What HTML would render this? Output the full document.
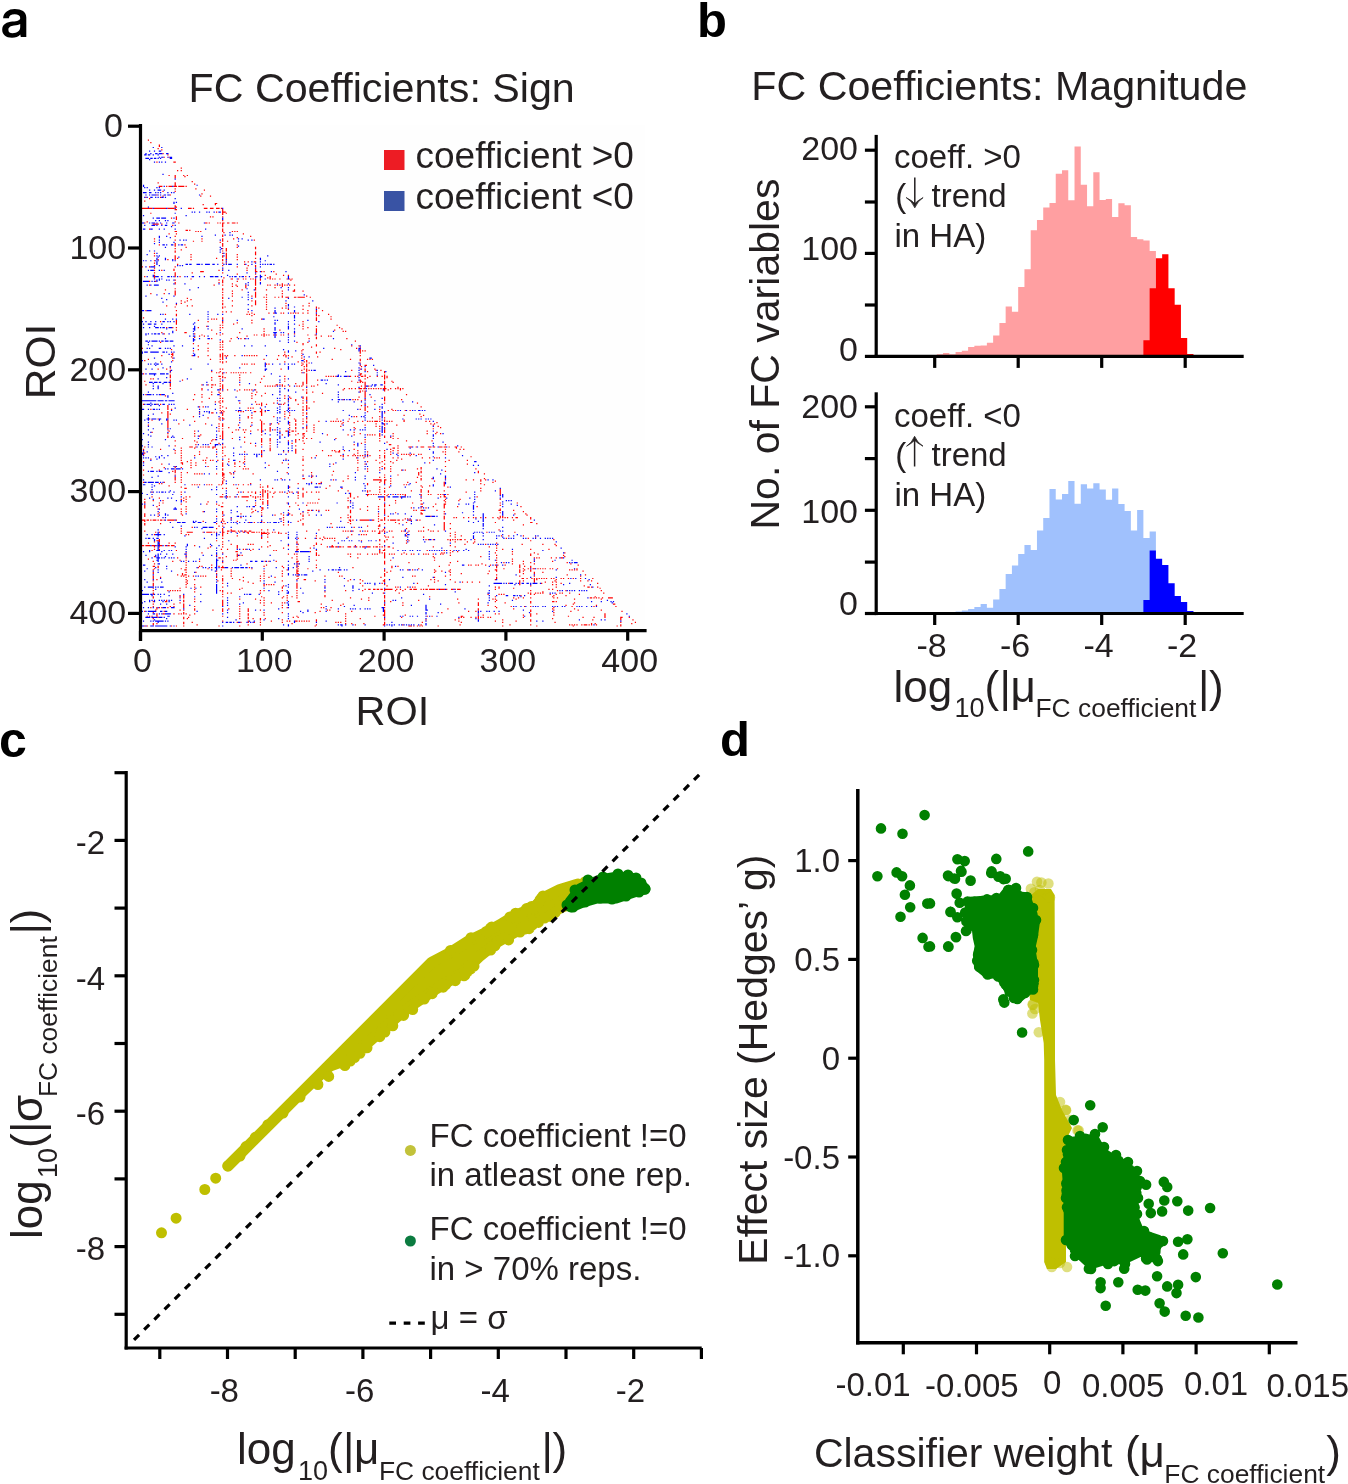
<!DOCTYPE html>
<html><head><meta charset="utf-8"><title>FC coefficients figure</title>
<style>html,body{margin:0;padding:0;background:#fff;}svg{display:block;will-change:transform;}text{font-family:"Liberation Sans",sans-serif;}</style>
</head><body>
<svg width="1348" height="1484" viewBox="0 0 1348 1484">
<rect width="1348" height="1484" fill="#fff"/>
<path fill-rule="evenodd" fill="#000" d="M3.1 18.2C3.6 12.5 8.5 9.1 14.7 9.1C21.5 9.1 26.3 11.8 26.3 17.5L26.3 36.9L20.8 36.9C20.5 36 20.4 35.3 20.3 34.6C18.4 36.7 15.5 37.8 12 37.8C5.8 37.8 2.2 34.4 2.2 29.8C2.2 24 7 22.3 12.5 21.6C17.5 21 20.2 20.6 20.2 18C20.2 15.4 18 14.2 14.7 14.2C11 14.2 9.1 15.8 8.9 18.2ZM20.2 24C19 24.8 16.8 25.2 14 25.6C10.8 26.1 8.4 27.2 8.4 29.9C8.4 32.1 10 33.2 12.6 33.2C17 33.2 20.2 31 20.2 27Z"/>
<text x="697" y="37.2" font-size="49" font-weight="bold" fill="#000">b</text>
<text x="-1" y="756.8" font-size="50" font-weight="bold" fill="#000">c</text>
<text x="720" y="756.4" font-size="49" font-weight="bold" fill="#000">d</text>
<text x="188.6" y="102" font-size="41.2" fill="#231f20">FC Coefficients: Sign</text>
<rect x="140" y="125" width="505" height="505" fill="#fefefe"/>
<g transform="translate(140.5,126.2) scale(1.2175)"><path d="M6 11h1v1h-1zM8 13h1v1h-1zM15 15h1v1h-1zM15 16h1v1h-1zM14 18h1v1h-1zM17 19h1v1h-1zM18 22h1v1h-1zM22 23h1v1h-1zM19 25h1v1h-1zM23 25h1v1h-1zM13 29h1v1h-1zM27 29h2v1h-2zM33 34h1v1h-1zM30 36h1v1h-1zM33 36h1v1h-1zM23 40h1v1h-1zM28 40h1v1h-1zM35 40h1v1h-1zM38 40h1v1h-1zM28 41h1v1h-1zM36 41h1v1h-1zM28 42h1v1h-1zM42 45h1v1h-1zM14 46h1v1h-1zM28 46h1v1h-1zM28 47h1v1h-1zM44 47h1v1h-1zM28 48h1v1h-1zM15 49h3v1h-3zM21 49h1v1h-1zM23 49h3v1h-3zM27 49h3v1h-3zM31 49h5v1h-5zM37 49h1v1h-1zM28 51h1v1h-1zM45 51h1v1h-1zM52 52h1v1h-1zM18 53h1v1h-1zM28 53h1v1h-1zM50 55h1v1h-1zM13 56h1v1h-1zM24 56h1v1h-1zM18 57h1v1h-1zM49 57h1v1h-1zM57 57h1v1h-1zM4 58h1v1h-1zM16 58h1v1h-1zM7 59h1v1h-1zM3 61h1v1h-1zM61 63h2v1h-2zM51 64h1v1h-1zM61 64h1v1h-1zM28 65h1v1h-1zM28 66h2v1h-2zM0 67h10v1h-10zM11 67h10v1h-10zM22 67h6v1h-6zM39 67h3v1h-3zM43 67h1v1h-1zM52 67h3v1h-3zM57 67h3v1h-3zM62 67h3v1h-3zM66 67h1v1h-1zM28 68h2v1h-2zM67 68h1v1h-1zM67 69h1v1h-1zM62 70h1v1h-1zM67 70h3v1h-3zM8 71h1v1h-1zM67 71h1v1h-1zM70 71h1v1h-1zM67 72h1v1h-1zM29 74h1v1h-1zM57 74h1v1h-1zM59 74h1v1h-1zM67 74h1v1h-1zM25 75h1v1h-1zM29 75h1v1h-1zM29 76h1v1h-1zM67 77h1v1h-1zM5 78h1v1h-1zM28 78h1v1h-1zM3 79h1v1h-1zM31 79h1v1h-1zM53 79h2v1h-2zM56 79h1v1h-1zM63 79h1v1h-1zM65 79h1v1h-1zM67 79h2v1h-2zM71 79h2v1h-2zM75 79h3v1h-3zM79 79h1v1h-1zM10 80h5v1h-5zM17 80h1v1h-1zM67 80h1v1h-1zM26 81h1v1h-1zM67 81h1v1h-1zM67 82h1v1h-1zM7 84h1v1h-1zM67 84h1v1h-1zM37 85h2v1h-2zM40 85h1v1h-1zM67 85h1v1h-1zM28 86h2v1h-2zM45 86h1v1h-1zM47 86h1v1h-1zM49 86h1v1h-1zM67 86h1v1h-1zM75 86h1v1h-1zM77 86h1v1h-1zM79 86h1v1h-1zM68 87h1v1h-1zM23 88h1v1h-1zM29 88h1v1h-1zM84 88h1v1h-1zM67 89h1v1h-1zM28 90h1v1h-1zM67 90h1v1h-1zM90 90h1v1h-1zM79 91h1v1h-1zM11 92h1v1h-1zM50 92h1v1h-1zM67 92h1v1h-1zM76 92h1v1h-1zM28 93h1v1h-1zM67 93h1v1h-1zM93 93h1v1h-1zM11 94h1v1h-1zM43 94h1v1h-1zM50 94h1v1h-1zM67 94h1v1h-1zM71 94h1v1h-1zM65 95h1v1h-1zM28 96h1v1h-1zM67 96h1v1h-1zM15 97h1v1h-1zM28 97h1v1h-1zM36 97h1v1h-1zM67 97h1v1h-1zM79 97h1v1h-1zM28 98h1v1h-1zM67 98h1v1h-1zM37 99h1v1h-1zM79 99h1v1h-1zM94 99h1v1h-1zM28 100h1v1h-1zM67 100h1v1h-1zM70 100h1v1h-1zM94 100h1v1h-1zM33 101h1v1h-1zM70 101h1v1h-1zM28 102h1v1h-1zM67 102h1v1h-1zM70 102h1v1h-1zM28 103h1v1h-1zM94 103h1v1h-1zM11 104h1v1h-1zM67 104h1v1h-1zM70 104h1v1h-1zM94 104h1v1h-1zM41 105h1v1h-1zM70 105h1v1h-1zM79 105h1v1h-1zM94 105h1v1h-1zM11 106h1v1h-1zM28 106h1v1h-1zM67 106h1v1h-1zM70 106h1v1h-1zM28 107h1v1h-1zM41 107h1v1h-1zM67 107h1v1h-1zM70 107h1v1h-1zM79 107h1v1h-1zM28 108h1v1h-1zM30 108h1v1h-1zM62 108h1v1h-1zM70 108h1v1h-1zM94 108h1v1h-1zM14 109h1v1h-1zM22 109h1v1h-1zM28 109h1v1h-1zM41 109h1v1h-1zM67 109h1v1h-1zM79 109h1v1h-1zM11 110h1v1h-1zM67 110h1v1h-1zM70 110h1v1h-1zM85 111h1v1h-1zM88 111h1v1h-1zM93 111h2v1h-2zM11 112h1v1h-1zM67 112h1v1h-1zM70 112h1v1h-1zM30 113h1v1h-1zM85 113h1v1h-1zM11 114h1v1h-1zM67 114h1v1h-1zM88 114h1v1h-1zM94 114h1v1h-1zM1 115h1v1h-1zM7 115h1v1h-1zM28 115h1v1h-1zM79 115h1v1h-1zM94 115h1v1h-1zM11 116h1v1h-1zM87 116h1v1h-1zM27 117h1v1h-1zM67 117h1v1h-1zM94 117h1v1h-1zM11 118h1v1h-1zM17 118h1v1h-1zM27 118h1v1h-1zM64 118h1v1h-1zM87 118h1v1h-1zM94 118h1v1h-1zM49 119h3v1h-3zM94 119h2v1h-2zM99 119h1v1h-1zM101 119h1v1h-1zM109 119h1v1h-1zM11 120h1v1h-1zM28 120h1v1h-1zM42 120h1v1h-1zM67 120h1v1h-1zM28 121h1v1h-1zM79 121h1v1h-1zM94 121h1v1h-1zM111 121h1v1h-1zM11 122h1v1h-1zM28 122h1v1h-1zM102 122h1v1h-1zM117 122h1v1h-1zM121 122h1v1h-1zM3 123h1v1h-1zM11 123h1v1h-1zM28 123h1v1h-1zM32 123h1v1h-1zM86 123h1v1h-1zM94 123h1v1h-1zM106 123h1v1h-1zM11 124h1v1h-1zM68 124h1v1h-1zM104 124h1v1h-1zM106 124h1v1h-1zM41 125h1v1h-1zM74 125h2v1h-2zM80 125h1v1h-1zM84 125h1v1h-1zM86 125h1v1h-1zM90 125h1v1h-1zM92 125h1v1h-1zM94 125h1v1h-1zM98 125h1v1h-1zM106 125h1v1h-1zM108 125h1v1h-1zM110 125h1v1h-1zM114 125h1v1h-1zM120 125h1v1h-1zM122 125h1v1h-1zM124 125h1v1h-1zM28 126h1v1h-1zM64 126h1v1h-1zM67 126h1v1h-1zM94 126h1v1h-1zM98 126h1v1h-1zM123 126h1v1h-1zM7 127h1v1h-1zM12 127h1v1h-1zM67 127h1v1h-1zM79 127h1v1h-1zM94 127h1v1h-1zM28 128h1v1h-1zM64 128h1v1h-1zM67 128h1v1h-1zM94 128h1v1h-1zM28 129h1v1h-1zM75 129h1v1h-1zM94 129h1v1h-1zM116 129h1v1h-1zM7 130h1v1h-1zM60 130h1v1h-1zM67 130h1v1h-1zM78 130h1v1h-1zM86 130h1v1h-1zM94 130h1v1h-1zM104 130h1v1h-1zM106 130h1v1h-1zM110 130h1v1h-1zM112 130h1v1h-1zM114 130h1v1h-1zM116 130h1v1h-1zM118 130h1v1h-1zM120 130h1v1h-1zM122 130h1v1h-1zM126 130h1v1h-1zM75 131h1v1h-1zM79 131h1v1h-1zM86 131h1v1h-1zM116 131h1v1h-1zM86 132h1v1h-1zM94 132h1v1h-1zM110 132h1v1h-1zM28 133h1v1h-1zM67 133h1v1h-1zM94 133h1v1h-1zM20 134h1v1h-1zM67 134h1v1h-1zM83 134h1v1h-1zM94 134h1v1h-1zM103 134h1v1h-1zM126 134h1v1h-1zM28 135h1v1h-1zM75 135h1v1h-1zM116 135h1v1h-1zM125 135h2v1h-2zM133 135h1v1h-1zM28 136h1v1h-1zM67 136h1v1h-1zM94 136h1v1h-1zM8 137h1v1h-1zM19 137h1v1h-1zM28 137h1v1h-1zM75 137h1v1h-1zM94 137h1v1h-1zM116 137h1v1h-1zM28 138h1v1h-1zM67 138h1v1h-1zM94 138h1v1h-1zM103 138h1v1h-1zM75 139h1v1h-1zM91 139h1v1h-1zM94 139h1v1h-1zM116 139h1v1h-1zM136 139h1v1h-1zM67 140h1v1h-1zM94 140h1v1h-1zM101 140h1v1h-1zM103 140h1v1h-1zM110 140h1v1h-1zM113 140h1v1h-1zM116 140h1v1h-1zM119 140h3v1h-3zM126 140h2v1h-2zM129 140h6v1h-6zM139 140h1v1h-1zM38 141h1v1h-1zM67 141h1v1h-1zM41 142h1v1h-1zM103 142h1v1h-1zM33 143h1v1h-1zM38 143h1v1h-1zM67 143h1v1h-1zM75 143h1v1h-1zM91 143h1v1h-1zM94 143h1v1h-1zM36 144h1v1h-1zM94 144h1v1h-1zM103 144h1v1h-1zM33 145h1v1h-1zM67 145h1v1h-1zM94 145h1v1h-1zM119 145h1v1h-1zM138 145h1v1h-1zM29 146h1v1h-1zM67 146h1v1h-1zM94 146h1v1h-1zM103 146h1v1h-1zM21 147h1v1h-1zM38 147h1v1h-1zM42 147h1v1h-1zM75 147h1v1h-1zM91 147h1v1h-1zM119 147h1v1h-1zM133 147h1v1h-1zM138 147h1v1h-1zM28 148h1v1h-1zM67 148h1v1h-1zM69 148h1v1h-1zM103 148h1v1h-1zM144 148h1v1h-1zM67 149h1v1h-1zM116 149h1v1h-1zM119 149h1v1h-1zM144 149h1v1h-1zM146 149h1v1h-1zM103 150h1v1h-1zM121 150h1v1h-1zM133 150h1v1h-1zM4 151h1v1h-1zM29 151h1v1h-1zM137 151h1v1h-1zM144 151h1v1h-1zM149 151h1v1h-1zM67 152h1v1h-1zM70 152h1v1h-1zM74 152h1v1h-1zM88 152h1v1h-1zM144 152h1v1h-1zM91 153h1v1h-1zM105 153h1v1h-1zM109 153h1v1h-1zM115 153h1v1h-1zM117 153h1v1h-1zM123 153h1v1h-1zM125 153h1v1h-1zM127 153h1v1h-1zM129 153h1v1h-1zM133 153h1v1h-1zM137 153h1v1h-1zM20 154h1v1h-1zM29 154h1v1h-1zM87 154h1v1h-1zM89 154h1v1h-1zM93 154h1v1h-1zM144 154h1v1h-1zM154 154h1v1h-1zM29 155h1v1h-1zM91 155h1v1h-1zM144 155h1v1h-1zM146 155h1v1h-1zM156 156h1v1h-1zM2 157h1v1h-1zM67 157h1v1h-1zM144 157h1v1h-1zM58 158h1v1h-1zM60 158h1v1h-1zM62 158h1v1h-1zM67 158h1v1h-1zM99 158h1v1h-1zM144 158h1v1h-1zM156 158h1v1h-1zM29 159h1v1h-1zM47 159h1v1h-1zM91 159h1v1h-1zM144 159h1v1h-1zM16 160h1v1h-1zM29 160h1v1h-1zM55 160h1v1h-1zM67 160h1v1h-1zM133 160h1v1h-1zM29 161h1v1h-1zM67 161h1v1h-1zM79 161h1v1h-1zM91 161h1v1h-1zM29 162h1v1h-1zM76 162h1v1h-1zM133 162h1v1h-1zM65 163h1v1h-1zM67 163h1v1h-1zM130 163h1v1h-1zM161 163h1v1h-1zM54 164h1v1h-1zM133 164h1v1h-1zM144 164h1v1h-1zM21 165h1v1h-1zM26 165h1v1h-1zM29 165h1v1h-1zM47 165h1v1h-1zM65 165h1v1h-1zM67 165h1v1h-1zM137 165h1v1h-1zM163 165h1v1h-1zM101 166h1v1h-1zM133 166h1v1h-1zM144 166h1v1h-1zM165 166h1v1h-1zM29 167h1v1h-1zM58 167h1v1h-1zM65 167h1v1h-1zM114 167h1v1h-1zM144 167h1v1h-1zM159 167h1v1h-1zM101 168h1v1h-1zM144 168h1v1h-1zM166 168h1v1h-1zM168 168h1v1h-1zM17 169h1v1h-1zM36 169h2v1h-2zM81 169h1v1h-1zM144 169h1v1h-1zM19 170h1v1h-1zM44 170h1v1h-1zM62 170h1v1h-1zM67 170h1v1h-1zM101 170h1v1h-1zM121 170h1v1h-1zM126 170h1v1h-1zM50 171h1v1h-1zM65 171h1v1h-1zM93 171h1v1h-1zM95 171h1v1h-1zM99 171h1v1h-1zM101 171h1v1h-1zM103 171h1v1h-1zM105 171h1v1h-1zM109 171h1v1h-1zM111 171h1v1h-1zM115 171h1v1h-1zM117 171h1v1h-1zM137 171h1v1h-1zM143 171h2v1h-2zM48 172h1v1h-1zM52 172h1v1h-1zM87 172h1v1h-1zM101 172h1v1h-1zM148 172h1v1h-1zM154 172h1v1h-1zM156 172h1v1h-1zM44 173h1v1h-1zM79 173h1v1h-1zM144 173h1v1h-1zM58 174h1v1h-1zM74 174h1v1h-1zM82 174h1v1h-1zM85 174h1v1h-1zM138 174h1v1h-1zM144 174h1v1h-1zM169 174h1v1h-1zM67 176h1v1h-1zM73 176h1v1h-1zM176 176h1v1h-1zM16 177h1v1h-1zM65 177h1v1h-1zM67 177h1v1h-1zM128 177h1v1h-1zM137 177h1v1h-1zM43 178h1v1h-1zM55 178h1v1h-1zM133 178h1v1h-1zM65 179h1v1h-1zM67 179h1v1h-1zM133 179h1v1h-1zM144 179h1v1h-1zM47 180h1v1h-1zM144 180h1v1h-1zM173 180h1v1h-1zM179 180h1v1h-1zM65 181h1v1h-1zM67 181h1v1h-1zM140 181h1v1h-1zM180 181h1v1h-1zM1 182h1v1h-1zM55 182h1v1h-1zM159 182h1v1h-1zM177 182h1v1h-1zM25 183h1v1h-1zM47 183h1v1h-1zM65 183h1v1h-1zM67 183h1v1h-1zM133 183h1v1h-1zM164 183h1v1h-1zM180 183h1v1h-1zM43 184h1v1h-1zM55 184h1v1h-1zM132 184h1v1h-1zM180 184h1v1h-1zM182 184h1v1h-1zM184 184h1v1h-1zM118 185h1v1h-1zM144 185h1v1h-1zM147 185h1v1h-1zM180 185h1v1h-1zM26 186h1v1h-1zM67 186h1v1h-1zM132 186h1v1h-1zM144 186h1v1h-1zM180 186h1v1h-1zM25 187h2v1h-2zM65 187h1v1h-1zM67 187h1v1h-1zM118 187h1v1h-1zM17 188h1v1h-1zM26 188h1v1h-1zM42 188h1v1h-1zM55 188h1v1h-1zM65 188h1v1h-1zM67 188h1v1h-1zM69 188h1v1h-1zM71 188h1v1h-1zM77 188h1v1h-1zM85 188h1v1h-1zM87 188h1v1h-1zM89 188h1v1h-1zM91 188h1v1h-1zM93 188h1v1h-1zM95 188h1v1h-1zM113 188h1v1h-1zM117 188h1v1h-1zM119 188h1v1h-1zM121 188h1v1h-1zM132 188h1v1h-1zM180 188h1v1h-1zM25 189h1v1h-1zM47 189h1v1h-1zM65 189h1v1h-1zM67 189h1v1h-1zM70 189h1v1h-1zM119 189h1v1h-1zM124 189h1v1h-1zM145 189h1v1h-1zM26 190h1v1h-1zM67 190h1v1h-1zM132 190h1v1h-1zM6 191h1v1h-1zM57 191h1v1h-1zM65 191h1v1h-1zM67 191h1v1h-1zM101 191h1v1h-1zM112 191h1v1h-1zM134 191h1v1h-1zM157 191h1v1h-1zM172 191h1v1h-1zM180 191h1v1h-1zM186 191h1v1h-1zM188 191h1v1h-1zM190 191h1v1h-1zM3 192h1v1h-1zM26 192h1v1h-1zM136 192h1v1h-1zM180 192h1v1h-1zM16 193h1v1h-1zM65 193h1v1h-1zM67 193h1v1h-1zM70 193h1v1h-1zM118 193h1v1h-1zM129 193h1v1h-1zM134 193h1v1h-1zM136 193h1v1h-1zM67 194h1v1h-1zM132 194h1v1h-1zM138 194h1v1h-1zM180 194h1v1h-1zM83 195h1v1h-1zM85 195h1v1h-1zM87 195h1v1h-1zM91 195h1v1h-1zM93 195h1v1h-1zM103 195h1v1h-1zM105 195h1v1h-1zM133 195h1v1h-1zM136 195h1v1h-1zM132 196h1v1h-1zM136 196h1v1h-1zM180 196h1v1h-1zM184 196h2v1h-2zM134 197h1v1h-1zM136 197h1v1h-1zM181 197h1v1h-1zM24 198h1v1h-1zM14 199h1v1h-1zM21 199h1v1h-1zM65 199h1v1h-1zM67 199h1v1h-1zM115 199h1v1h-1zM134 199h1v1h-1zM136 199h1v1h-1zM180 199h1v1h-1zM184 199h1v1h-1zM192 199h1v1h-1zM24 200h1v1h-1zM132 200h1v1h-1zM136 200h1v1h-1zM138 200h1v1h-1zM173 200h1v1h-1zM184 200h1v1h-1zM193 200h1v1h-1zM197 200h1v1h-1zM58 201h1v1h-1zM65 201h1v1h-1zM136 201h1v1h-1zM186 201h1v1h-1zM200 201h1v1h-1zM24 202h1v1h-1zM62 202h1v1h-1zM64 202h1v1h-1zM67 202h1v1h-1zM70 202h1v1h-1zM74 202h1v1h-1zM76 202h1v1h-1zM78 202h1v1h-1zM80 202h1v1h-1zM82 202h1v1h-1zM84 202h1v1h-1zM86 202h1v1h-1zM90 202h1v1h-1zM132 202h1v1h-1zM134 202h1v1h-1zM200 202h1v1h-1zM2 203h1v1h-1zM67 203h1v1h-1zM136 203h1v1h-1zM180 203h2v1h-2zM24 204h1v1h-1zM81 204h1v1h-1zM136 204h1v1h-1zM180 204h1v1h-1zM184 204h1v1h-1zM200 204h1v1h-1zM24 205h1v1h-1zM64 205h2v1h-2zM67 205h1v1h-1zM101 205h1v1h-1zM118 205h1v1h-1zM136 205h1v1h-1zM152 205h1v1h-1zM154 205h1v1h-1zM156 205h1v1h-1zM158 205h1v1h-1zM160 205h1v1h-1zM170 205h1v1h-1zM172 205h1v1h-1zM176 205h1v1h-1zM178 205h1v1h-1zM181 205h2v1h-2zM184 205h1v1h-1zM188 205h1v1h-1zM194 205h1v1h-1zM198 205h1v1h-1zM200 205h1v1h-1zM202 205h1v1h-1zM24 206h1v1h-1zM58 206h1v1h-1zM67 206h1v1h-1zM69 206h1v1h-1zM81 206h1v1h-1zM136 206h1v1h-1zM186 206h1v1h-1zM200 206h1v1h-1zM202 206h1v1h-1zM8 207h1v1h-1zM10 207h1v1h-1zM65 207h1v1h-1zM99 207h1v1h-1zM118 207h1v1h-1zM136 207h1v1h-1zM184 207h1v1h-1zM200 207h1v1h-1zM24 208h1v1h-1zM34 208h1v1h-1zM58 208h1v1h-1zM81 208h1v1h-1zM136 208h1v1h-1zM145 208h1v1h-1zM180 208h1v1h-1zM3 209h1v1h-1zM24 209h1v1h-1zM65 209h1v1h-1zM67 209h1v1h-1zM118 209h1v1h-1zM136 209h1v1h-1zM173 209h1v1h-1zM180 209h2v1h-2zM200 209h1v1h-1zM206 209h1v1h-1zM98 210h1v1h-1zM133 210h1v1h-1zM136 210h1v1h-1zM178 210h1v1h-1zM180 210h1v1h-1zM182 210h1v1h-1zM184 210h1v1h-1zM200 210h1v1h-1zM207 210h1v1h-1zM24 211h1v1h-1zM65 211h1v1h-1zM127 211h1v1h-1zM133 211h1v1h-1zM136 211h1v1h-1zM184 211h1v1h-1zM200 211h1v1h-1zM4 212h1v1h-1zM24 212h1v1h-1zM50 212h1v1h-1zM55 212h1v1h-1zM58 212h2v1h-2zM61 212h1v1h-1zM67 212h1v1h-1zM81 212h1v1h-1zM94 212h1v1h-1zM111 212h2v1h-2zM114 212h1v1h-1zM116 212h1v1h-1zM133 212h1v1h-1zM145 212h1v1h-1zM184 212h1v1h-1zM24 213h1v1h-1zM65 213h1v1h-1zM67 213h1v1h-1zM102 213h1v1h-1zM104 213h1v1h-1zM106 213h1v1h-1zM108 213h1v1h-1zM110 213h1v1h-1zM116 213h1v1h-1zM118 213h1v1h-1zM122 213h1v1h-1zM128 213h1v1h-1zM130 213h1v1h-1zM132 213h1v1h-1zM136 213h1v1h-1zM140 213h1v1h-1zM142 213h1v1h-1zM181 213h1v1h-1zM184 213h1v1h-1zM187 213h1v1h-1zM200 213h1v1h-1zM58 214h1v1h-1zM67 214h1v1h-1zM184 214h1v1h-1zM200 214h1v1h-1zM211 214h1v1h-1zM24 215h1v1h-1zM50 215h1v1h-1zM65 215h1v1h-1zM67 215h1v1h-1zM167 215h1v1h-1zM171 215h1v1h-1zM173 215h1v1h-1zM176 215h1v1h-1zM179 215h3v1h-3zM183 215h2v1h-2zM187 215h1v1h-1zM189 215h1v1h-1zM191 215h1v1h-1zM193 215h1v1h-1zM195 215h1v1h-1zM197 215h1v1h-1zM199 215h3v1h-3zM205 215h1v1h-1zM209 215h1v1h-1zM211 215h1v1h-1zM213 215h1v1h-1zM215 215h1v1h-1zM50 216h1v1h-1zM65 216h1v1h-1zM71 216h1v1h-1zM81 216h1v1h-1zM85 216h1v1h-1zM87 216h1v1h-1zM89 216h1v1h-1zM91 216h1v1h-1zM94 216h1v1h-1zM133 216h1v1h-1zM136 216h1v1h-1zM166 216h1v1h-1zM200 216h1v1h-1zM203 216h1v1h-1zM213 216h1v1h-1zM67 217h1v1h-1zM79 217h1v1h-1zM180 217h1v1h-1zM182 217h1v1h-1zM184 217h1v1h-1zM200 217h1v1h-1zM58 218h1v1h-1zM64 218h1v1h-1zM95 218h1v1h-1zM136 218h1v1h-1zM141 218h1v1h-1zM180 218h1v1h-1zM184 218h1v1h-1zM65 219h1v1h-1zM91 219h1v1h-1zM102 219h1v1h-1zM136 219h1v1h-1zM149 219h1v1h-1zM184 219h1v1h-1zM4 220h1v1h-1zM16 220h1v1h-1zM44 220h1v1h-1zM50 220h1v1h-1zM58 220h1v1h-1zM94 220h1v1h-1zM184 220h1v1h-1zM218 220h1v1h-1zM20 221h1v1h-1zM65 221h1v1h-1zM91 221h1v1h-1zM99 221h1v1h-1zM118 221h1v1h-1zM184 221h1v1h-1zM50 222h1v1h-1zM122 222h1v1h-1zM133 222h1v1h-1zM136 222h1v1h-1zM179 222h1v1h-1zM184 222h1v1h-1zM189 222h1v1h-1zM200 222h1v1h-1zM56 223h1v1h-1zM65 223h1v1h-1zM67 223h1v1h-1zM91 223h1v1h-1zM118 223h1v1h-1zM123 223h1v1h-1zM133 223h1v1h-1zM136 223h1v1h-1zM200 223h1v1h-1zM43 224h1v1h-1zM127 224h1v1h-1zM136 224h1v1h-1zM166 224h1v1h-1zM174 224h1v1h-1zM176 224h1v1h-1zM178 224h1v1h-1zM184 224h1v1h-1zM200 224h1v1h-1zM214 224h1v1h-1zM65 225h1v1h-1zM67 225h1v1h-1zM112 225h1v1h-1zM121 225h1v1h-1zM127 225h1v1h-1zM133 225h1v1h-1zM181 225h1v1h-1zM200 225h1v1h-1zM50 226h1v1h-1zM61 226h1v1h-1zM64 226h1v1h-1zM67 226h1v1h-1zM94 226h1v1h-1zM136 226h1v1h-1zM142 226h1v1h-1zM65 227h1v1h-1zM81 227h1v1h-1zM99 227h1v1h-1zM109 227h1v1h-1zM118 227h1v1h-1zM133 227h1v1h-1zM136 227h1v1h-1zM200 227h1v1h-1zM227 227h1v1h-1zM2 228h1v1h-1zM13 228h1v1h-1zM16 228h1v1h-1zM95 228h1v1h-1zM97 228h1v1h-1zM99 228h1v1h-1zM103 228h1v1h-1zM113 228h1v1h-1zM115 228h1v1h-1zM117 228h1v1h-1zM129 228h1v1h-1zM184 228h1v1h-1zM192 228h1v1h-1zM22 229h1v1h-1zM65 229h1v1h-1zM99 229h1v1h-1zM136 229h1v1h-1zM181 229h1v1h-1zM22 230h1v1h-1zM48 230h1v1h-1zM51 230h1v1h-1zM67 230h1v1h-1zM133 230h1v1h-1zM136 230h1v1h-1zM184 230h1v1h-1zM186 230h1v1h-1zM230 230h1v1h-1zM22 231h1v1h-1zM65 231h1v1h-1zM70 231h1v1h-1zM88 231h1v1h-1zM90 231h1v1h-1zM92 231h1v1h-1zM122 231h1v1h-1zM136 231h1v1h-1zM138 231h1v1h-1zM184 231h1v1h-1zM8 232h1v1h-1zM22 232h1v1h-1zM25 232h1v1h-1zM38 232h1v1h-1zM99 232h1v1h-1zM133 232h1v1h-1zM136 232h1v1h-1zM180 232h1v1h-1zM184 232h1v1h-1zM196 232h1v1h-1zM206 232h1v1h-1zM65 233h1v1h-1zM67 233h1v1h-1zM88 233h1v1h-1zM99 233h1v1h-1zM133 233h1v1h-1zM184 233h1v1h-1zM203 233h1v1h-1zM207 233h1v1h-1zM209 233h1v1h-1zM217 233h1v1h-1zM221 233h1v1h-1zM22 234h1v1h-1zM66 234h1v1h-1zM68 234h1v1h-1zM80 234h1v1h-1zM82 234h1v1h-1zM84 234h1v1h-1zM93 234h2v1h-2zM98 234h2v1h-2zM102 234h1v1h-1zM118 234h1v1h-1zM186 234h1v1h-1zM196 234h1v1h-1zM17 235h1v1h-1zM22 235h1v1h-1zM48 235h1v1h-1zM58 235h2v1h-2zM65 235h1v1h-1zM67 235h1v1h-1zM99 235h1v1h-1zM122 235h1v1h-1zM133 235h1v1h-1zM136 235h1v1h-1zM200 235h1v1h-1zM22 236h1v1h-1zM24 236h1v1h-1zM67 236h1v1h-1zM99 236h1v1h-1zM118 236h1v1h-1zM136 236h1v1h-1zM229 236h1v1h-1zM22 237h1v1h-1zM67 237h1v1h-1zM91 237h1v1h-1zM99 237h1v1h-1zM122 237h1v1h-1zM133 237h1v1h-1zM216 237h1v1h-1zM232 237h1v1h-1zM22 238h1v1h-1zM43 238h1v1h-1zM88 238h1v1h-1zM109 238h1v1h-1zM118 238h1v1h-1zM175 238h1v1h-1zM177 238h1v1h-1zM196 238h1v1h-1zM230 238h1v1h-1zM22 239h1v1h-1zM55 239h1v1h-1zM65 239h1v1h-1zM67 239h1v1h-1zM88 239h1v1h-1zM91 239h1v1h-1zM121 239h1v1h-1zM136 239h1v1h-1zM190 239h1v1h-1zM200 239h1v1h-1zM7 240h1v1h-1zM14 240h1v1h-1zM64 240h1v1h-1zM67 240h2v1h-2zM126 240h1v1h-1zM133 240h1v1h-1zM136 240h1v1h-1zM161 240h1v1h-1zM171 240h1v1h-1zM196 240h1v1h-1zM9 241h1v1h-1zM22 241h1v1h-1zM35 241h1v1h-1zM65 241h1v1h-1zM81 241h1v1h-1zM98 241h1v1h-1zM127 241h1v1h-1zM200 241h1v1h-1zM216 241h1v1h-1zM22 242h1v1h-1zM44 242h1v1h-1zM99 242h1v1h-1zM127 242h1v1h-1zM133 242h1v1h-1zM136 242h1v1h-1zM146 242h1v1h-1zM156 242h1v1h-1zM158 242h1v1h-1zM160 242h1v1h-1zM162 242h1v1h-1zM164 242h1v1h-1zM170 242h1v1h-1zM178 242h1v1h-1zM182 242h1v1h-1zM186 242h1v1h-1zM188 242h1v1h-1zM190 242h1v1h-1zM192 242h3v1h-3zM196 242h1v1h-1zM200 242h1v1h-1zM202 242h1v1h-1zM204 242h1v1h-1zM206 242h1v1h-1zM216 242h1v1h-1zM234 242h1v1h-1zM237 242h1v1h-1zM22 243h1v1h-1zM91 243h1v1h-1zM99 243h1v1h-1zM122 243h1v1h-1zM136 243h1v1h-1zM166 243h1v1h-1zM175 243h1v1h-1zM243 243h1v1h-1zM22 244h1v1h-1zM31 244h1v1h-1zM53 244h1v1h-1zM64 244h1v1h-1zM67 244h1v1h-1zM99 244h1v1h-1zM101 244h1v1h-1zM107 244h1v1h-1zM113 244h1v1h-1zM127 244h1v1h-1zM133 244h1v1h-1zM165 244h1v1h-1zM193 244h1v1h-1zM200 244h1v1h-1zM238 244h1v1h-1zM241 244h1v1h-1zM6 245h1v1h-1zM22 245h1v1h-1zM67 245h1v1h-1zM80 245h1v1h-1zM99 245h1v1h-1zM106 245h1v1h-1zM122 245h1v1h-1zM127 245h1v1h-1zM142 245h1v1h-1zM184 245h1v1h-1zM200 245h1v1h-1zM210 245h1v1h-1zM240 245h1v1h-1zM22 246h1v1h-1zM64 246h1v1h-1zM67 246h1v1h-1zM90 246h1v1h-1zM99 246h1v1h-1zM136 246h1v1h-1zM164 246h1v1h-1zM193 246h1v1h-1zM196 246h1v1h-1zM244 246h1v1h-1zM22 247h1v1h-1zM72 247h1v1h-1zM99 247h1v1h-1zM106 247h1v1h-1zM122 247h1v1h-1zM127 247h1v1h-1zM136 247h1v1h-1zM142 247h1v1h-1zM175 247h1v1h-1zM200 247h1v1h-1zM246 247h1v1h-1zM64 248h1v1h-1zM67 248h1v1h-1zM99 248h1v1h-1zM106 248h1v1h-1zM127 248h1v1h-1zM133 248h1v1h-1zM136 248h1v1h-1zM176 248h1v1h-1zM196 248h1v1h-1zM240 248h1v1h-1zM22 249h1v1h-1zM78 249h1v1h-1zM80 249h1v1h-1zM84 249h1v1h-1zM86 249h1v1h-1zM96 249h1v1h-1zM99 249h1v1h-1zM102 249h1v1h-1zM106 249h1v1h-1zM110 249h1v1h-1zM122 249h1v1h-1zM142 249h1v1h-1zM200 249h1v1h-1zM23 250h1v1h-1zM44 250h1v1h-1zM64 250h1v1h-1zM67 250h1v1h-1zM90 250h1v1h-1zM99 250h1v1h-1zM106 250h1v1h-1zM114 250h1v1h-1zM119 250h2v1h-2zM124 250h2v1h-2zM127 250h1v1h-1zM136 250h1v1h-1zM200 250h1v1h-1zM235 250h1v1h-1zM9 251h1v1h-1zM67 251h1v1h-1zM75 251h1v1h-1zM85 251h1v1h-1zM99 251h1v1h-1zM122 251h1v1h-1zM142 251h1v1h-1zM175 251h1v1h-1zM200 251h1v1h-1zM243 251h1v1h-1zM22 252h1v1h-1zM44 252h1v1h-1zM67 252h1v1h-1zM129 252h1v1h-1zM133 252h2v1h-2zM180 252h1v1h-1zM196 252h1v1h-1zM207 252h1v1h-1zM235 252h1v1h-1zM242 252h1v1h-1zM246 252h1v1h-1zM49 253h1v1h-1zM67 253h1v1h-1zM99 253h1v1h-1zM116 253h1v1h-1zM122 253h1v1h-1zM127 253h1v1h-1zM133 253h1v1h-1zM153 253h1v1h-1zM170 253h1v1h-1zM175 253h1v1h-1zM186 253h1v1h-1zM188 253h1v1h-1zM190 253h1v1h-1zM192 253h1v1h-1zM196 253h1v1h-1zM22 254h1v1h-1zM44 254h1v1h-1zM48 254h1v1h-1zM65 254h1v1h-1zM67 254h1v1h-1zM134 254h1v1h-1zM196 254h1v1h-1zM200 254h1v1h-1zM207 254h1v1h-1zM22 255h1v1h-1zM67 255h1v1h-1zM85 255h1v1h-1zM133 255h1v1h-1zM200 255h1v1h-1zM205 255h1v1h-1zM34 256h1v1h-1zM65 256h1v1h-1zM67 256h1v1h-1zM75 256h1v1h-1zM99 256h1v1h-1zM106 256h1v1h-1zM133 256h1v1h-1zM136 256h1v1h-1zM140 256h1v1h-1zM160 256h1v1h-1zM196 256h1v1h-1zM207 256h1v1h-1zM211 256h1v1h-1zM59 257h1v1h-1zM61 257h1v1h-1zM99 257h1v1h-1zM106 257h1v1h-1zM127 257h1v1h-1zM130 257h1v1h-1zM184 257h1v1h-1zM28 258h1v1h-1zM44 258h1v1h-1zM58 258h1v1h-1zM99 258h1v1h-1zM106 258h1v1h-1zM121 258h1v1h-1zM127 258h1v1h-1zM133 258h1v1h-1zM196 258h1v1h-1zM218 258h1v1h-1zM228 258h1v1h-1zM239 258h1v1h-1zM46 259h1v1h-1zM85 259h1v1h-1zM99 259h1v1h-1zM127 259h1v1h-1zM184 259h1v1h-1zM202 259h1v1h-1zM57 260h1v1h-1zM64 260h1v1h-1zM90 260h1v1h-1zM106 260h1v1h-1zM124 260h1v1h-1zM134 260h1v1h-1zM181 260h1v1h-1zM45 261h1v1h-1zM67 261h1v1h-1zM99 261h1v1h-1zM175 261h1v1h-1zM204 261h2v1h-2zM250 261h1v1h-1zM28 262h1v1h-1zM94 262h1v1h-1zM106 262h1v1h-1zM127 262h1v1h-1zM211 262h1v1h-1zM3 263h1v1h-1zM40 263h3v1h-3zM45 263h1v1h-1zM49 263h1v1h-1zM51 263h1v1h-1zM53 263h1v1h-1zM55 263h2v1h-2zM59 263h3v1h-3zM67 263h1v1h-1zM69 263h1v1h-1zM220 263h3v1h-3zM226 263h1v1h-1zM230 263h3v1h-3zM236 263h3v1h-3zM240 263h2v1h-2zM245 263h3v1h-3zM249 263h2v1h-2zM253 263h1v1h-1zM258 263h2v1h-2zM263 263h1v1h-1zM33 264h1v1h-1zM44 264h1v1h-1zM59 264h1v1h-1zM67 264h1v1h-1zM106 264h1v1h-1zM207 264h2v1h-2zM211 264h1v1h-1zM259 264h1v1h-1zM2 265h1v1h-1zM16 265h1v1h-1zM62 265h1v1h-1zM106 265h1v1h-1zM127 265h1v1h-1zM133 265h1v1h-1zM175 265h1v1h-1zM205 265h1v1h-1zM250 265h1v1h-1zM262 265h1v1h-1zM265 265h1v1h-1zM28 266h1v1h-1zM33 266h1v1h-1zM67 266h1v1h-1zM99 266h1v1h-1zM106 266h1v1h-1zM127 266h1v1h-1zM149 266h1v1h-1zM157 266h1v1h-1zM159 266h1v1h-1zM163 266h1v1h-1zM167 266h1v1h-1zM178 266h1v1h-1zM196 266h1v1h-1zM200 266h1v1h-1zM207 266h1v1h-1zM211 266h1v1h-1zM2 267h1v1h-1zM48 267h1v1h-1zM85 267h1v1h-1zM99 267h1v1h-1zM117 267h1v1h-1zM121 267h1v1h-1zM127 267h1v1h-1zM160 267h1v1h-1zM162 267h2v1h-2zM186 267h1v1h-1zM205 267h1v1h-1zM248 267h1v1h-1zM250 267h1v1h-1zM261 267h1v1h-1zM3 268h1v1h-1zM28 268h1v1h-1zM33 268h1v1h-1zM67 268h1v1h-1zM99 268h1v1h-1zM127 268h1v1h-1zM178 268h1v1h-1zM200 268h1v1h-1zM211 268h1v1h-1zM2 269h1v1h-1zM48 269h1v1h-1zM62 269h1v1h-1zM175 269h1v1h-1zM186 269h1v1h-1zM205 269h1v1h-1zM214 269h1v1h-1zM216 269h1v1h-1zM218 269h1v1h-1zM220 269h1v1h-1zM222 269h1v1h-1zM224 269h1v1h-1zM228 269h1v1h-1zM230 269h1v1h-1zM250 269h1v1h-1zM33 270h1v1h-1zM44 270h1v1h-1zM69 270h1v1h-1zM99 270h1v1h-1zM144 270h1v1h-1zM154 270h1v1h-1zM156 270h1v1h-1zM164 270h1v1h-1zM166 270h1v1h-1zM170 270h1v1h-1zM174 270h1v1h-1zM176 270h1v1h-1zM178 270h1v1h-1zM180 270h1v1h-1zM182 270h1v1h-1zM184 270h1v1h-1zM188 270h1v1h-1zM196 270h1v1h-1zM200 270h1v1h-1zM221 270h1v1h-1zM67 271h1v1h-1zM85 271h1v1h-1zM99 271h1v1h-1zM133 271h1v1h-1zM166 271h1v1h-1zM186 271h1v1h-1zM200 271h1v1h-1zM271 271h1v1h-1zM33 272h1v1h-1zM54 272h1v1h-1zM140 272h1v1h-1zM177 272h1v1h-1zM183 272h1v1h-1zM196 272h1v1h-1zM200 272h1v1h-1zM207 272h1v1h-1zM211 272h1v1h-1zM231 272h1v1h-1zM237 272h1v1h-1zM241 272h1v1h-1zM243 272h1v1h-1zM245 272h1v1h-1zM8 273h1v1h-1zM72 273h1v1h-1zM85 273h1v1h-1zM119 273h1v1h-1zM133 273h1v1h-1zM214 273h1v1h-1zM33 274h1v1h-1zM41 274h1v1h-1zM51 274h1v1h-1zM53 274h1v1h-1zM57 274h1v1h-1zM59 274h1v1h-1zM63 274h1v1h-1zM67 274h1v1h-1zM133 274h1v1h-1zM178 274h1v1h-1zM193 274h1v1h-1zM200 274h1v1h-1zM210 274h1v1h-1zM253 274h1v1h-1zM268 274h1v1h-1zM2 275h1v1h-1zM38 275h1v1h-1zM72 275h1v1h-1zM81 275h1v1h-1zM85 275h1v1h-1zM186 275h1v1h-1zM198 275h1v1h-1zM205 275h1v1h-1zM250 275h1v1h-1zM33 276h2v1h-2zM41 276h1v1h-1zM45 276h1v1h-1zM53 276h1v1h-1zM67 276h1v1h-1zM77 276h1v1h-1zM84 276h1v1h-1zM116 276h1v1h-1zM178 276h1v1h-1zM196 276h1v1h-1zM207 276h1v1h-1zM237 276h1v1h-1zM17 277h1v1h-1zM34 277h1v1h-1zM67 277h1v1h-1zM77 277h1v1h-1zM121 277h1v1h-1zM158 277h1v1h-1zM184 277h1v1h-1zM200 277h1v1h-1zM268 277h1v1h-1zM41 278h1v1h-1zM45 278h1v1h-1zM67 278h1v1h-1zM105 278h1v1h-1zM133 278h1v1h-1zM28 279h1v1h-1zM55 279h1v1h-1zM67 279h1v1h-1zM77 279h1v1h-1zM81 279h1v1h-1zM85 279h1v1h-1zM198 279h1v1h-1zM205 279h1v1h-1zM250 279h1v1h-1zM9 280h1v1h-1zM19 280h1v1h-1zM28 280h1v1h-1zM33 280h1v1h-1zM41 280h1v1h-1zM178 280h1v1h-1zM196 280h1v1h-1zM200 280h1v1h-1zM230 280h1v1h-1zM67 281h1v1h-1zM84 281h1v1h-1zM86 281h1v1h-1zM88 281h1v1h-1zM186 281h1v1h-1zM200 281h1v1h-1zM205 281h1v1h-1zM227 281h1v1h-1zM230 281h1v1h-1zM275 281h1v1h-1zM2 282h1v1h-1zM15 282h1v1h-1zM28 282h1v1h-1zM67 282h1v1h-1zM133 282h1v1h-1zM178 282h1v1h-1zM196 282h1v1h-1zM214 282h1v1h-1zM217 282h1v1h-1zM26 283h1v1h-1zM28 283h1v1h-1zM77 283h1v1h-1zM158 283h1v1h-1zM186 283h1v1h-1zM205 283h1v1h-1zM230 283h1v1h-1zM250 283h1v1h-1zM277 283h1v1h-1zM28 284h1v1h-1zM33 284h1v1h-1zM38 284h1v1h-1zM67 284h1v1h-1zM73 284h1v1h-1zM120 284h1v1h-1zM140 284h1v1h-1zM228 284h1v1h-1zM230 284h1v1h-1zM277 284h1v1h-1zM44 285h1v1h-1zM46 285h1v1h-1zM48 285h1v1h-1zM50 285h1v1h-1zM62 285h1v1h-1zM67 285h2v1h-2zM74 285h1v1h-1zM76 285h1v1h-1zM92 285h1v1h-1zM228 285h1v1h-1zM282 285h1v1h-1zM2 286h1v1h-1zM28 286h1v1h-1zM33 286h1v1h-1zM67 286h2v1h-2zM133 286h1v1h-1zM140 286h1v1h-1zM157 286h1v1h-1zM200 286h1v1h-1zM211 286h1v1h-1zM228 286h1v1h-1zM67 287h1v1h-1zM141 287h1v1h-1zM170 287h1v1h-1zM230 287h1v1h-1zM28 288h1v1h-1zM33 288h1v1h-1zM68 288h1v1h-1zM140 288h1v1h-1zM196 288h1v1h-1zM200 288h1v1h-1zM227 288h1v1h-1zM28 289h1v1h-1zM67 289h1v1h-1zM115 289h1v1h-1zM133 289h2v1h-2zM170 289h1v1h-1zM205 289h1v1h-1zM230 289h1v1h-1zM239 289h1v1h-1zM250 289h1v1h-1zM282 289h1v1h-1zM28 290h1v1h-1zM33 290h1v1h-1zM68 290h1v1h-1zM158 290h1v1h-1zM191 290h7v1h-7zM200 290h2v1h-2zM230 290h1v1h-1zM267 290h1v1h-1zM273 290h1v1h-1zM279 290h1v1h-1zM283 290h1v1h-1zM67 291h1v1h-1zM166 291h1v1h-1zM197 291h1v1h-1zM200 291h1v1h-1zM205 291h1v1h-1zM241 291h1v1h-1zM279 291h1v1h-1zM291 291h1v1h-1zM2 292h1v1h-1zM19 292h1v1h-1zM28 292h1v1h-1zM33 292h1v1h-1zM67 292h1v1h-1zM140 292h1v1h-1zM148 292h1v1h-1zM196 292h1v1h-1zM200 292h1v1h-1zM219 292h1v1h-1zM226 292h1v1h-1zM249 292h1v1h-1zM289 292h1v1h-1zM15 293h1v1h-1zM17 293h1v1h-1zM67 293h1v1h-1zM90 293h1v1h-1zM129 293h1v1h-1zM146 293h2v1h-2zM186 293h1v1h-1zM200 293h1v1h-1zM205 293h1v1h-1zM249 293h1v1h-1zM279 293h1v1h-1zM42 294h1v1h-1zM44 294h1v1h-1zM46 294h1v1h-1zM48 294h1v1h-1zM54 294h1v1h-1zM56 294h1v1h-1zM58 294h1v1h-1zM64 294h1v1h-1zM66 294h1v1h-1zM76 294h1v1h-1zM80 294h1v1h-1zM84 294h1v1h-1zM88 294h1v1h-1zM98 294h1v1h-1zM186 294h1v1h-1zM216 294h1v1h-1zM218 294h1v1h-1zM249 294h1v1h-1zM282 294h1v1h-1zM23 295h1v1h-1zM104 295h1v1h-1zM155 295h1v1h-1zM230 295h1v1h-1zM237 295h1v1h-1zM249 295h1v1h-1zM33 296h1v1h-1zM98 296h1v1h-1zM100 296h1v1h-1zM104 296h1v1h-1zM122 296h1v1h-1zM196 296h1v1h-1zM204 296h1v1h-1zM231 296h1v1h-1zM252 296h1v1h-1zM36 297h2v1h-2zM67 297h1v1h-1zM70 297h1v1h-1zM79 297h1v1h-1zM108 297h1v1h-1zM133 297h1v1h-1zM152 297h1v1h-1zM165 297h1v1h-1zM200 297h1v1h-1zM279 297h1v1h-1zM100 298h1v1h-1zM133 298h1v1h-1zM196 298h1v1h-1zM230 298h1v1h-1zM295 298h1v1h-1zM100 299h1v1h-1zM102 299h1v1h-1zM104 299h1v1h-1zM162 299h1v1h-1zM170 299h1v1h-1zM186 299h1v1h-1zM188 299h1v1h-1zM200 299h1v1h-1zM222 299h1v1h-1zM230 299h1v1h-1zM236 299h1v1h-1zM249 299h1v1h-1zM279 299h1v1h-1zM295 299h1v1h-1zM9 300h1v1h-1zM33 300h1v1h-1zM80 300h1v1h-1zM84 300h1v1h-1zM88 300h1v1h-1zM91 300h1v1h-1zM94 300h1v1h-1zM98 300h1v1h-1zM100 300h1v1h-1zM102 300h1v1h-1zM106 300h1v1h-1zM110 300h1v1h-1zM114 300h1v1h-1zM116 300h1v1h-1zM122 300h1v1h-1zM124 300h1v1h-1zM129 300h1v1h-1zM136 300h1v1h-1zM140 300h1v1h-1zM144 300h1v1h-1zM146 300h1v1h-1zM186 300h1v1h-1zM196 300h1v1h-1zM200 300h1v1h-1zM230 300h1v1h-1zM236 300h1v1h-1zM267 300h1v1h-1zM295 300h1v1h-1zM94 301h1v1h-1zM100 301h1v1h-1zM104 301h1v1h-1zM109 301h1v1h-1zM120 301h1v1h-1zM129 301h1v1h-1zM133 301h1v1h-1zM172 301h1v1h-1zM295 301h1v1h-1zM33 302h1v1h-1zM67 302h1v1h-1zM100 302h1v1h-1zM104 302h1v1h-1zM133 302h1v1h-1zM172 302h1v1h-1zM186 302h2v1h-2zM189 302h1v1h-1zM191 302h1v1h-1zM193 302h1v1h-1zM195 302h1v1h-1zM197 302h1v1h-1zM200 302h1v1h-1zM203 302h1v1h-1zM207 302h1v1h-1zM211 302h1v1h-1zM213 302h1v1h-1zM215 302h1v1h-1zM217 302h1v1h-1zM230 302h1v1h-1zM236 302h1v1h-1zM238 302h1v1h-1zM244 302h1v1h-1zM246 302h1v1h-1zM248 302h1v1h-1zM252 302h1v1h-1zM295 302h1v1h-1zM90 303h1v1h-1zM100 303h1v1h-1zM104 303h1v1h-1zM129 303h1v1h-1zM133 303h1v1h-1zM172 303h1v1h-1zM186 303h1v1h-1zM202 303h1v1h-1zM217 303h1v1h-1zM230 303h1v1h-1zM249 303h1v1h-1zM9 304h1v1h-1zM37 304h1v1h-1zM40 304h1v1h-1zM65 304h3v1h-3zM70 304h2v1h-2zM73 304h1v1h-1zM77 304h1v1h-1zM80 304h1v1h-1zM83 304h6v1h-6zM92 304h1v1h-1zM94 304h1v1h-1zM96 304h1v1h-1zM98 304h1v1h-1zM100 304h1v1h-1zM104 304h1v1h-1zM108 304h1v1h-1zM133 304h1v1h-1zM172 304h1v1h-1zM178 304h1v1h-1zM200 304h1v1h-1zM213 304h1v1h-1zM246 304h1v1h-1zM249 304h2v1h-2zM276 304h1v1h-1zM15 305h1v1h-1zM35 305h1v1h-1zM94 305h1v1h-1zM104 305h1v1h-1zM129 305h1v1h-1zM170 305h1v1h-1zM175 305h1v1h-1zM200 305h1v1h-1zM230 305h1v1h-1zM3 306h1v1h-1zM33 306h1v1h-1zM37 306h1v1h-1zM98 306h1v1h-1zM100 306h1v1h-1zM146 306h1v1h-1zM196 306h1v1h-1zM200 306h1v1h-1zM250 306h1v1h-1zM262 306h1v1h-1zM295 306h1v1h-1zM10 307h1v1h-1zM18 307h1v1h-1zM35 307h1v1h-1zM87 307h1v1h-1zM104 307h1v1h-1zM170 307h1v1h-1zM200 307h1v1h-1zM209 307h1v1h-1zM230 307h1v1h-1zM249 307h1v1h-1zM261 307h1v1h-1zM3 308h1v1h-1zM37 308h1v1h-1zM55 308h1v1h-1zM100 308h1v1h-1zM104 308h1v1h-1zM172 308h1v1h-1zM250 308h1v1h-1zM3 309h1v1h-1zM15 309h1v1h-1zM18 309h1v1h-1zM67 309h1v1h-1zM94 309h1v1h-1zM100 309h1v1h-1zM104 309h1v1h-1zM120 309h1v1h-1zM127 309h1v1h-1zM137 309h1v1h-1zM139 309h1v1h-1zM141 309h1v1h-1zM143 309h1v1h-1zM145 309h1v1h-1zM209 309h1v1h-1zM223 309h1v1h-1zM295 309h1v1h-1zM309 309h1v1h-1zM33 310h1v1h-1zM54 310h1v1h-1zM62 310h1v1h-1zM100 310h1v1h-1zM104 310h1v1h-1zM200 310h1v1h-1zM230 310h2v1h-2zM242 310h1v1h-1zM249 310h2v1h-2zM3 311h1v1h-1zM15 311h1v1h-1zM64 311h1v1h-1zM94 311h1v1h-1zM129 311h1v1h-1zM136 311h1v1h-1zM200 311h1v1h-1zM204 311h1v1h-1zM249 311h1v1h-1zM295 311h1v1h-1zM3 312h1v1h-1zM13 312h1v1h-1zM37 312h1v1h-1zM66 312h2v1h-2zM122 312h1v1h-1zM170 312h1v1h-1zM186 312h1v1h-1zM195 312h1v1h-1zM200 312h1v1h-1zM231 312h1v1h-1zM240 312h1v1h-1zM249 312h1v1h-1zM260 312h1v1h-1zM276 312h1v1h-1zM312 312h1v1h-1zM3 313h1v1h-1zM99 313h2v1h-2zM170 313h1v1h-1zM222 313h1v1h-1zM230 313h1v1h-1zM234 313h1v1h-1zM249 313h1v1h-1zM14 314h1v1h-1zM33 314h1v1h-1zM37 314h1v1h-1zM91 314h1v1h-1zM100 314h1v1h-1zM180 314h1v1h-1zM195 314h1v1h-1zM200 314h1v1h-1zM295 314h1v1h-1zM94 315h1v1h-1zM99 315h1v1h-1zM137 315h2v1h-2zM140 315h1v1h-1zM144 315h1v1h-1zM146 315h1v1h-1zM152 315h1v1h-1zM154 315h1v1h-1zM172 315h1v1h-1zM186 315h1v1h-1zM200 315h1v1h-1zM224 315h1v1h-1zM226 315h1v1h-1zM230 315h3v1h-3zM243 315h1v1h-1zM294 315h2v1h-2zM306 315h1v1h-1zM33 316h1v1h-1zM37 316h1v1h-1zM51 316h1v1h-1zM67 316h1v1h-1zM92 316h1v1h-1zM172 316h1v1h-1zM200 316h1v1h-1zM249 316h1v1h-1zM314 316h1v1h-1zM15 317h1v1h-1zM67 317h1v1h-1zM91 317h1v1h-1zM99 317h1v1h-1zM121 317h1v1h-1zM133 317h1v1h-1zM137 317h1v1h-1zM172 317h1v1h-1zM200 317h1v1h-1zM209 317h1v1h-1zM230 317h1v1h-1zM295 317h1v1h-1zM3 318h1v1h-1zM14 318h1v1h-1zM33 318h1v1h-1zM67 318h1v1h-1zM82 318h1v1h-1zM115 318h1v1h-1zM122 318h1v1h-1zM131 318h1v1h-1zM195 318h1v1h-1zM200 318h1v1h-1zM230 318h2v1h-2zM249 318h1v1h-1zM307 318h1v1h-1zM316 318h1v1h-1zM3 319h1v1h-1zM34 319h1v1h-1zM99 319h1v1h-1zM110 319h1v1h-1zM117 319h1v1h-1zM124 319h1v1h-1zM133 319h1v1h-1zM138 319h1v1h-1zM170 319h1v1h-1zM317 319h1v1h-1zM3 320h1v1h-1zM14 320h1v1h-1zM62 320h1v1h-1zM67 320h1v1h-1zM133 320h1v1h-1zM172 320h1v1h-1zM195 320h1v1h-1zM203 320h1v1h-1zM238 320h1v1h-1zM249 320h1v1h-1zM295 320h1v1h-1zM297 320h1v1h-1zM82 321h1v1h-1zM117 321h1v1h-1zM164 321h1v1h-1zM170 321h1v1h-1zM172 321h1v1h-1zM200 321h1v1h-1zM249 321h1v1h-1zM257 321h1v1h-1zM259 321h1v1h-1zM265 321h1v1h-1zM269 321h1v1h-1zM273 321h1v1h-1zM275 321h1v1h-1zM279 321h1v1h-1zM283 321h1v1h-1zM289 321h1v1h-1zM293 321h1v1h-1zM295 321h1v1h-1zM297 321h1v1h-1zM299 321h1v1h-1zM301 321h1v1h-1zM305 321h1v1h-1zM308 321h2v1h-2zM320 321h1v1h-1zM67 322h1v1h-1zM74 322h1v1h-1zM115 322h1v1h-1zM133 322h1v1h-1zM195 322h1v1h-1zM200 322h1v1h-1zM217 322h1v1h-1zM219 322h1v1h-1zM249 322h1v1h-1zM294 322h1v1h-1zM320 322h1v1h-1zM0 323h4v1h-4zM5 323h2v1h-2zM8 323h1v1h-1zM10 323h3v1h-3zM14 323h1v1h-1zM16 323h2v1h-2zM19 323h1v1h-1zM22 323h6v1h-6zM29 323h1v1h-1zM67 323h1v1h-1zM117 323h1v1h-1zM131 323h1v1h-1zM171 323h2v1h-2zM174 323h1v1h-1zM180 323h8v1h-8zM190 323h2v1h-2zM197 323h2v1h-2zM200 323h1v1h-1zM203 323h1v1h-1zM205 323h5v1h-5zM211 323h2v1h-2zM215 323h1v1h-1zM220 323h3v1h-3zM227 323h1v1h-1zM229 323h1v1h-1zM306 323h1v1h-1zM3 324h1v1h-1zM51 324h1v1h-1zM66 324h1v1h-1zM68 324h1v1h-1zM79 324h1v1h-1zM99 324h1v1h-1zM129 324h1v1h-1zM172 324h1v1h-1zM195 324h1v1h-1zM89 325h1v1h-1zM93 325h1v1h-1zM101 325h1v1h-1zM117 325h1v1h-1zM170 325h1v1h-1zM209 325h1v1h-1zM218 325h1v1h-1zM249 325h1v1h-1zM291 325h1v1h-1zM320 325h2v1h-2zM3 326h1v1h-1zM16 326h1v1h-1zM62 326h1v1h-1zM67 326h1v1h-1zM69 326h1v1h-1zM133 326h1v1h-1zM156 326h1v1h-1zM172 326h1v1h-1zM200 326h1v1h-1zM212 326h1v1h-1zM249 326h1v1h-1zM254 326h1v1h-1zM325 326h1v1h-1zM3 327h1v1h-1zM117 327h1v1h-1zM121 327h1v1h-1zM133 327h1v1h-1zM196 327h1v1h-1zM249 327h1v1h-1zM314 327h1v1h-1zM64 328h1v1h-1zM67 328h1v1h-1zM186 328h1v1h-1zM195 328h2v1h-2zM249 328h1v1h-1zM42 329h1v1h-1zM157 329h1v1h-1zM175 329h1v1h-1zM232 329h1v1h-1zM249 329h1v1h-1zM33 330h1v1h-1zM62 330h1v1h-1zM67 330h1v1h-1zM195 330h1v1h-1zM200 330h1v1h-1zM218 330h1v1h-1zM249 330h1v1h-1zM254 330h1v1h-1zM67 331h1v1h-1zM74 331h1v1h-1zM99 331h1v1h-1zM104 331h1v1h-1zM146 331h1v1h-1zM199 331h1v1h-1zM236 331h1v1h-1zM249 331h1v1h-1zM294 331h1v1h-1zM3 332h1v1h-1zM33 332h1v1h-1zM67 332h1v1h-1zM71 332h2v1h-2zM74 332h4v1h-4zM80 332h1v1h-1zM83 332h1v1h-1zM85 332h2v1h-2zM89 332h2v1h-2zM136 332h1v1h-1zM166 332h1v1h-1zM168 332h1v1h-1zM170 332h1v1h-1zM172 332h1v1h-1zM174 332h1v1h-1zM180 332h1v1h-1zM184 332h1v1h-1zM186 332h1v1h-1zM190 332h1v1h-1zM192 332h1v1h-1zM196 332h1v1h-1zM198 332h1v1h-1zM200 332h1v1h-1zM204 332h1v1h-1zM206 332h1v1h-1zM214 332h1v1h-1zM216 332h1v1h-1zM220 332h1v1h-1zM228 332h1v1h-1zM230 332h1v1h-1zM232 332h1v1h-1zM238 332h1v1h-1zM240 332h1v1h-1zM244 332h1v1h-1zM12 333h1v1h-1zM15 333h1v1h-1zM38 333h5v1h-5zM51 333h1v1h-1zM54 333h5v1h-5zM60 333h1v1h-1zM62 333h1v1h-1zM67 333h2v1h-2zM78 333h1v1h-1zM81 333h1v1h-1zM84 333h1v1h-1zM87 333h2v1h-2zM91 333h3v1h-3zM95 333h1v1h-1zM97 333h1v1h-1zM99 333h1v1h-1zM101 333h1v1h-1zM104 333h1v1h-1zM108 333h1v1h-1zM110 333h1v1h-1zM113 333h1v1h-1zM196 333h1v1h-1zM200 333h1v1h-1zM258 333h1v1h-1zM284 333h1v1h-1zM307 333h1v1h-1zM33 334h1v1h-1zM67 334h1v1h-1zM71 334h1v1h-1zM88 334h1v1h-1zM99 334h5v1h-5zM105 334h1v1h-1zM113 334h1v1h-1zM115 334h1v1h-1zM119 334h1v1h-1zM195 334h2v1h-2zM218 334h1v1h-1zM254 334h1v1h-1zM11 335h1v1h-1zM37 335h1v1h-1zM39 335h1v1h-1zM67 335h1v1h-1zM99 335h1v1h-1zM104 335h1v1h-1zM173 335h1v1h-1zM181 335h1v1h-1zM183 335h1v1h-1zM185 335h1v1h-1zM258 335h1v1h-1zM67 336h1v1h-1zM79 336h1v1h-1zM144 336h1v1h-1zM200 336h1v1h-1zM218 336h1v1h-1zM254 336h1v1h-1zM263 336h1v1h-1zM296 336h1v1h-1zM302 336h1v1h-1zM314 336h1v1h-1zM99 337h1v1h-1zM104 337h1v1h-1zM150 337h1v1h-1zM170 337h1v1h-1zM201 337h1v1h-1zM203 337h1v1h-1zM207 337h1v1h-1zM232 337h1v1h-1zM258 337h1v1h-1zM324 337h1v1h-1zM67 338h1v1h-1zM99 338h1v1h-1zM129 338h1v1h-1zM135 338h1v1h-1zM144 338h1v1h-1zM147 338h1v1h-1zM151 338h1v1h-1zM153 338h1v1h-1zM155 338h1v1h-1zM157 338h1v1h-1zM159 338h1v1h-1zM300 338h1v1h-1zM318 338h1v1h-1zM15 339h1v1h-1zM149 339h1v1h-1zM196 339h1v1h-1zM202 339h1v1h-1zM234 339h1v1h-1zM236 339h1v1h-1zM240 339h1v1h-1zM252 339h1v1h-1zM254 339h1v1h-1zM256 339h1v1h-1zM258 339h1v1h-1zM260 339h1v1h-1zM262 339h2v1h-2zM266 339h1v1h-1zM274 339h1v1h-1zM339 339h1v1h-1zM13 340h3v1h-3zM62 340h1v1h-1zM159 340h1v1h-1zM181 340h1v1h-1zM196 340h1v1h-1zM200 340h1v1h-1zM218 340h1v1h-1zM220 340h1v1h-1zM254 340h1v1h-1zM320 340h1v1h-1zM11 341h1v1h-1zM15 341h1v1h-1zM67 341h1v1h-1zM104 341h1v1h-1zM128 341h1v1h-1zM200 341h1v1h-1zM258 341h1v1h-1zM268 341h1v1h-1zM274 341h1v1h-1zM6 342h1v1h-1zM23 342h1v1h-1zM28 342h1v1h-1zM128 342h1v1h-1zM144 342h1v1h-1zM218 342h1v1h-1zM273 342h1v1h-1zM292 342h1v1h-1zM15 343h1v1h-1zM67 343h1v1h-1zM74 343h1v1h-1zM88 343h1v1h-1zM90 343h1v1h-1zM92 343h1v1h-1zM129 343h1v1h-1zM144 343h1v1h-1zM148 343h1v1h-1zM196 343h1v1h-1zM266 343h1v1h-1zM283 343h1v1h-1zM313 343h1v1h-1zM330 343h1v1h-1zM340 343h1v1h-1zM0 344h3v1h-3zM4 344h4v1h-4zM9 344h3v1h-3zM13 344h1v1h-1zM16 344h2v1h-2zM20 344h1v1h-1zM22 344h2v1h-2zM25 344h3v1h-3zM44 344h1v1h-1zM79 344h1v1h-1zM106 344h1v1h-1zM121 344h1v1h-1zM142 344h1v1h-1zM157 344h1v1h-1zM176 344h1v1h-1zM254 344h1v1h-1zM292 344h1v1h-1zM341 344h1v1h-1zM11 345h1v1h-1zM15 345h1v1h-1zM57 345h1v1h-1zM67 345h1v1h-1zM79 345h1v1h-1zM99 345h1v1h-1zM104 345h1v1h-1zM128 345h1v1h-1zM153 345h1v1h-1zM156 345h3v1h-3zM160 345h2v1h-2zM163 345h2v1h-2zM166 345h1v1h-1zM170 345h3v1h-3zM175 345h1v1h-1zM177 345h1v1h-1zM180 345h1v1h-1zM182 345h3v1h-3zM186 345h3v1h-3zM191 345h1v1h-1zM193 345h2v1h-2zM196 345h1v1h-1zM198 345h1v1h-1zM200 345h1v1h-1zM203 345h2v1h-2zM240 345h1v1h-1zM258 345h1v1h-1zM286 345h1v1h-1zM55 346h1v1h-1zM79 346h1v1h-1zM117 346h1v1h-1zM139 346h1v1h-1zM207 346h1v1h-1zM292 346h1v1h-1zM11 347h1v1h-1zM15 347h1v1h-1zM66 347h1v1h-1zM71 347h1v1h-1zM84 347h1v1h-1zM86 347h1v1h-1zM92 347h1v1h-1zM128 347h2v1h-2zM200 347h1v1h-1zM297 347h1v1h-1zM320 347h1v1h-1zM335 347h1v1h-1zM9 348h1v1h-1zM29 348h1v1h-1zM90 348h1v1h-1zM109 348h1v1h-1zM111 348h1v1h-1zM128 348h1v1h-1zM144 348h1v1h-1zM196 348h1v1h-1zM199 348h2v1h-2zM235 348h1v1h-1zM249 348h1v1h-1zM254 348h1v1h-1zM292 348h1v1h-1zM78 349h2v1h-2zM139 349h1v1h-1zM196 349h1v1h-1zM256 349h1v1h-1zM260 349h1v1h-1zM305 349h1v1h-1zM37 350h1v1h-1zM50 350h1v1h-1zM67 350h1v1h-1zM144 350h1v1h-1zM196 350h1v1h-1zM198 350h1v1h-1zM200 350h1v1h-1zM216 350h1v1h-1zM247 350h1v1h-1zM249 350h1v1h-1zM254 350h1v1h-1zM291 350h1v1h-1zM323 350h1v1h-1zM348 350h1v1h-1zM79 351h1v1h-1zM121 351h1v1h-1zM126 351h1v1h-1zM128 351h1v1h-1zM144 351h1v1h-1zM170 351h1v1h-1zM172 351h1v1h-1zM178 351h1v1h-1zM180 351h1v1h-1zM186 351h1v1h-1zM190 351h1v1h-1zM192 351h1v1h-1zM194 351h1v1h-1zM200 351h1v1h-1zM204 351h1v1h-1zM206 351h1v1h-1zM208 351h1v1h-1zM214 351h1v1h-1zM218 351h1v1h-1zM222 351h1v1h-1zM224 351h1v1h-1zM232 351h1v1h-1zM234 351h1v1h-1zM236 351h1v1h-1zM240 351h1v1h-1zM246 351h1v1h-1zM248 351h1v1h-1zM305 351h1v1h-1zM320 351h1v1h-1zM326 351h1v1h-1zM37 352h1v1h-1zM62 352h1v1h-1zM79 352h1v1h-1zM81 352h1v1h-1zM83 352h1v1h-1zM144 352h1v1h-1zM146 352h1v1h-1zM200 352h1v1h-1zM254 352h1v1h-1zM292 352h1v1h-1zM320 352h1v1h-1zM347 352h1v1h-1zM11 353h1v1h-1zM70 353h1v1h-1zM79 353h1v1h-1zM128 353h1v1h-1zM172 353h1v1h-1zM200 353h1v1h-1zM240 353h1v1h-1zM279 353h1v1h-1zM348 353h1v1h-1zM30 354h1v1h-1zM37 354h1v1h-1zM64 354h2v1h-2zM67 354h1v1h-1zM124 354h1v1h-1zM178 354h1v1h-1zM200 354h1v1h-1zM241 354h1v1h-1zM292 354h1v1h-1zM323 354h1v1h-1zM325 354h1v1h-1zM327 354h1v1h-1zM337 354h1v1h-1zM341 354h1v1h-1zM345 354h2v1h-2zM6 355h1v1h-1zM79 355h1v1h-1zM128 355h1v1h-1zM305 355h1v1h-1zM32 356h1v1h-1zM37 356h1v1h-1zM67 356h1v1h-1zM76 356h1v1h-1zM78 356h1v1h-1zM144 356h1v1h-1zM205 356h1v1h-1zM241 356h1v1h-1zM292 356h1v1h-1zM323 356h1v1h-1zM10 357h1v1h-1zM26 357h1v1h-1zM48 357h1v1h-1zM102 357h1v1h-1zM105 357h1v1h-1zM111 357h1v1h-1zM128 357h2v1h-2zM200 357h1v1h-1zM260 357h1v1h-1zM305 357h1v1h-1zM314 357h1v1h-1zM338 357h1v1h-1zM37 358h1v1h-1zM67 358h1v1h-1zM128 358h1v1h-1zM200 358h1v1h-1zM220 358h1v1h-1zM254 358h1v1h-1zM292 358h1v1h-1zM298 358h1v1h-1zM320 358h1v1h-1zM350 358h1v1h-1zM11 359h1v1h-1zM87 359h1v1h-1zM129 359h1v1h-1zM200 359h1v1h-1zM280 359h1v1h-1zM305 359h1v1h-1zM314 359h1v1h-1zM323 359h1v1h-1zM353 359h1v1h-1zM37 360h1v1h-1zM58 360h1v1h-1zM103 360h1v1h-1zM128 360h1v1h-1zM144 360h1v1h-1zM253 360h1v1h-1zM269 360h1v1h-1zM271 360h1v1h-1zM275 360h1v1h-1zM277 360h1v1h-1zM283 360h1v1h-1zM287 360h1v1h-1zM291 360h1v1h-1zM293 360h1v1h-1zM299 360h1v1h-1zM311 360h1v1h-1zM359 360h1v1h-1zM10 361h2v1h-2zM14 361h1v1h-1zM48 361h1v1h-1zM50 361h1v1h-1zM64 361h1v1h-1zM67 361h1v1h-1zM101 361h1v1h-1zM116 361h1v1h-1zM129 361h1v1h-1zM206 361h1v1h-1zM211 361h1v1h-1zM245 361h1v1h-1zM292 361h1v1h-1zM311 361h1v1h-1zM315 361h1v1h-1zM320 361h1v1h-1zM14 362h1v1h-1zM37 362h1v1h-1zM47 362h1v1h-1zM58 362h1v1h-1zM66 362h3v1h-3zM89 362h1v1h-1zM117 362h1v1h-1zM128 362h1v1h-1zM144 362h1v1h-1zM174 362h1v1h-1zM206 362h1v1h-1zM292 362h1v1h-1zM311 362h1v1h-1zM320 362h1v1h-1zM11 363h1v1h-1zM33 363h1v1h-1zM55 363h1v1h-1zM74 363h1v1h-1zM91 363h1v1h-1zM129 363h1v1h-1zM137 363h1v1h-1zM228 363h1v1h-1zM298 363h1v1h-1zM314 363h1v1h-1zM318 363h1v1h-1zM322 363h2v1h-2zM326 363h1v1h-1zM328 363h1v1h-1zM330 363h1v1h-1zM332 363h1v1h-1zM336 363h1v1h-1zM338 363h1v1h-1zM342 363h1v1h-1zM358 363h1v1h-1zM10 364h1v1h-1zM36 364h2v1h-2zM66 364h1v1h-1zM120 364h1v1h-1zM128 364h1v1h-1zM200 364h1v1h-1zM219 364h1v1h-1zM223 364h1v1h-1zM241 364h1v1h-1zM254 364h1v1h-1zM291 364h2v1h-2zM311 364h1v1h-1zM315 364h1v1h-1zM320 364h1v1h-1zM352 364h1v1h-1zM354 364h1v1h-1zM356 364h1v1h-1zM358 364h1v1h-1zM62 365h1v1h-1zM74 365h1v1h-1zM101 365h1v1h-1zM116 365h1v1h-1zM128 365h2v1h-2zM200 365h1v1h-1zM205 365h1v1h-1zM242 365h1v1h-1zM247 365h1v1h-1zM253 365h1v1h-1zM286 365h1v1h-1zM292 365h1v1h-1zM311 365h1v1h-1zM314 365h1v1h-1zM320 365h1v1h-1zM363 365h1v1h-1zM10 366h1v1h-1zM37 366h1v1h-1zM45 366h1v1h-1zM128 366h1v1h-1zM162 366h1v1h-1zM202 366h1v1h-1zM241 366h1v1h-1zM254 366h1v1h-1zM311 366h1v1h-1zM323 366h1v1h-1zM330 366h1v1h-1zM10 367h1v1h-1zM34 367h1v1h-1zM62 367h1v1h-1zM74 367h1v1h-1zM101 367h1v1h-1zM116 367h1v1h-1zM128 367h2v1h-2zM200 367h1v1h-1zM263 367h1v1h-1zM285 367h1v1h-1zM314 367h1v1h-1zM323 367h1v1h-1zM30 368h1v1h-1zM34 368h1v1h-1zM36 368h2v1h-2zM200 368h1v1h-1zM254 368h1v1h-1zM292 368h1v1h-1zM350 368h1v1h-1zM365 368h1v1h-1zM10 369h1v1h-1zM33 369h1v1h-1zM35 369h1v1h-1zM39 369h1v1h-1zM43 369h1v1h-1zM49 369h1v1h-1zM51 369h1v1h-1zM53 369h1v1h-1zM62 369h1v1h-1zM67 369h1v1h-1zM74 369h1v1h-1zM98 369h1v1h-1zM101 369h1v1h-1zM116 369h1v1h-1zM128 369h2v1h-2zM151 369h1v1h-1zM163 369h1v1h-1zM165 369h1v1h-1zM200 369h1v1h-1zM223 369h1v1h-1zM225 369h1v1h-1zM250 369h1v1h-1zM311 369h1v1h-1zM323 369h1v1h-1zM361 369h1v1h-1zM10 370h1v1h-1zM16 370h1v1h-1zM37 370h1v1h-1zM62 370h1v1h-1zM84 370h1v1h-1zM105 370h1v1h-1zM110 370h1v1h-1zM197 370h1v1h-1zM241 370h1v1h-1zM292 370h1v1h-1zM10 371h1v1h-1zM67 371h1v1h-1zM75 371h1v1h-1zM98 371h1v1h-1zM101 371h1v1h-1zM129 371h1v1h-1zM292 371h1v1h-1zM313 371h2v1h-2zM317 371h1v1h-1zM321 371h1v1h-1zM323 371h1v1h-1zM325 371h1v1h-1zM327 371h1v1h-1zM329 371h1v1h-1zM331 371h1v1h-1zM333 371h1v1h-1zM337 371h1v1h-1zM339 371h1v1h-1zM345 371h1v1h-1zM347 371h1v1h-1zM351 371h1v1h-1zM355 371h1v1h-1zM361 371h1v1h-1zM371 371h1v1h-1zM13 372h1v1h-1zM37 372h1v1h-1zM44 372h1v1h-1zM67 372h1v1h-1zM81 372h1v1h-1zM128 372h1v1h-1zM134 372h2v1h-2zM172 372h1v1h-1zM180 372h1v1h-1zM200 372h1v1h-1zM238 372h1v1h-1zM241 372h1v1h-1zM254 372h1v1h-1zM291 372h1v1h-1zM323 372h1v1h-1zM325 372h1v1h-1zM341 372h1v1h-1zM10 373h1v1h-1zM38 373h1v1h-1zM63 373h1v1h-1zM67 373h1v1h-1zM84 373h1v1h-1zM98 373h1v1h-1zM116 373h1v1h-1zM143 373h1v1h-1zM170 373h1v1h-1zM182 373h1v1h-1zM199 373h2v1h-2zM244 373h1v1h-1zM311 373h1v1h-1zM314 373h1v1h-1zM323 373h1v1h-1zM340 373h1v1h-1zM361 373h1v1h-1zM367 373h1v1h-1zM370 373h1v1h-1zM37 374h1v1h-1zM88 374h1v1h-1zM200 374h1v1h-1zM241 374h1v1h-1zM258 374h1v1h-1zM264 374h1v1h-1zM268 374h1v1h-1zM272 374h1v1h-1zM278 374h1v1h-1zM311 374h1v1h-1zM323 374h1v1h-1zM332 374h1v1h-1zM338 374h1v1h-1zM341 374h1v1h-1zM10 375h1v1h-1zM38 375h1v1h-1zM67 375h1v1h-1zM92 375h1v1h-1zM128 375h1v1h-1zM180 375h1v1h-1zM198 375h1v1h-1zM227 375h1v1h-1zM302 375h1v1h-1zM311 375h1v1h-1zM329 375h1v1h-1zM345 375h1v1h-1zM375 375h1v1h-1zM10 376h1v1h-1zM37 376h1v1h-1zM44 376h1v1h-1zM101 376h1v1h-1zM103 376h1v1h-1zM105 376h1v1h-1zM107 376h1v1h-1zM109 376h1v1h-1zM128 376h1v1h-1zM200 376h1v1h-1zM311 376h1v1h-1zM338 376h1v1h-1zM341 376h1v1h-1zM10 377h1v1h-1zM101 377h1v1h-1zM117 377h1v1h-1zM128 377h1v1h-1zM151 377h1v1h-1zM182 377h1v1h-1zM202 377h1v1h-1zM236 377h1v1h-1zM320 377h1v1h-1zM364 377h1v1h-1zM37 378h1v1h-1zM44 378h1v1h-1zM49 378h1v1h-1zM67 378h1v1h-1zM116 378h1v1h-1zM128 378h1v1h-1zM209 378h1v1h-1zM211 378h1v1h-1zM219 378h1v1h-1zM223 378h1v1h-1zM225 378h1v1h-1zM291 378h1v1h-1zM294 378h1v1h-1zM341 378h1v1h-1zM367 378h2v1h-2zM370 378h1v1h-1zM375 378h1v1h-1zM0 379h1v1h-1zM10 379h1v1h-1zM32 379h1v1h-1zM83 379h1v1h-1zM116 379h1v1h-1zM128 379h1v1h-1zM294 379h1v1h-1zM306 379h1v1h-1zM377 379h1v1h-1zM44 380h1v1h-1zM81 380h1v1h-1zM184 380h1v1h-1zM187 380h2v1h-2zM191 380h2v1h-2zM194 380h2v1h-2zM197 380h2v1h-2zM200 380h7v1h-7zM210 380h1v1h-1zM213 380h1v1h-1zM217 380h1v1h-1zM221 380h2v1h-2zM224 380h3v1h-3zM230 380h1v1h-1zM232 380h1v1h-1zM234 380h2v1h-2zM237 380h5v1h-5zM243 380h2v1h-2zM246 380h4v1h-4zM251 380h1v1h-1zM255 380h2v1h-2zM258 380h1v1h-1zM260 380h3v1h-3zM291 380h1v1h-1zM335 380h1v1h-1zM338 380h1v1h-1zM10 381h1v1h-1zM22 381h1v1h-1zM24 381h1v1h-1zM26 381h1v1h-1zM28 381h1v1h-1zM30 381h1v1h-1zM32 381h1v1h-1zM65 381h1v1h-1zM67 381h1v1h-1zM98 381h1v1h-1zM101 381h1v1h-1zM116 381h1v1h-1zM128 381h1v1h-1zM168 381h1v1h-1zM182 381h1v1h-1zM200 381h1v1h-1zM209 381h1v1h-1zM215 381h1v1h-1zM320 381h1v1h-1zM342 381h1v1h-1zM349 381h1v1h-1zM378 381h1v1h-1zM44 382h1v1h-1zM67 382h1v1h-1zM151 382h1v1h-1zM330 382h1v1h-1zM10 383h1v1h-1zM71 383h1v1h-1zM74 383h1v1h-1zM98 383h1v1h-1zM128 383h1v1h-1zM199 383h1v1h-1zM212 383h1v1h-1zM318 383h1v1h-1zM320 383h1v1h-1zM324 383h1v1h-1zM326 383h1v1h-1zM328 383h1v1h-1zM330 383h1v1h-1zM344 383h1v1h-1zM346 383h1v1h-1zM352 383h1v1h-1zM380 383h1v1h-1zM10 384h1v1h-1zM67 384h1v1h-1zM285 384h1v1h-1zM294 384h1v1h-1zM296 384h1v1h-1zM298 384h1v1h-1zM320 384h1v1h-1zM323 384h1v1h-1zM336 384h1v1h-1zM341 384h1v1h-1zM360 384h1v1h-1zM32 385h1v1h-1zM35 385h1v1h-1zM120 385h1v1h-1zM128 385h1v1h-1zM151 385h1v1h-1zM200 385h1v1h-1zM312 385h1v1h-1zM339 385h1v1h-1zM349 385h1v1h-1zM10 386h1v1h-1zM35 386h1v1h-1zM67 386h1v1h-1zM99 386h1v1h-1zM117 386h1v1h-1zM124 386h1v1h-1zM151 386h1v1h-1zM200 386h1v1h-1zM237 386h1v1h-1zM291 386h1v1h-1zM338 386h1v1h-1zM373 386h1v1h-1zM10 387h1v1h-1zM32 387h1v1h-1zM35 387h1v1h-1zM101 387h1v1h-1zM116 387h1v1h-1zM120 387h1v1h-1zM128 387h1v1h-1zM172 387h1v1h-1zM187 387h1v1h-1zM200 387h1v1h-1zM306 387h1v1h-1zM310 387h1v1h-1zM314 387h1v1h-1zM320 387h1v1h-1zM339 387h1v1h-1zM342 387h1v1h-1zM369 387h2v1h-2zM372 387h1v1h-1zM374 387h1v1h-1zM376 387h1v1h-1zM379 387h1v1h-1zM384 387h4v1h-4zM44 388h1v1h-1zM81 388h1v1h-1zM94 388h1v1h-1zM181 388h1v1h-1zM260 388h1v1h-1zM277 388h1v1h-1zM289 388h1v1h-1zM291 388h1v1h-1zM308 388h1v1h-1zM356 388h1v1h-1zM378 388h1v1h-1zM21 389h1v1h-1zM35 389h1v1h-1zM67 389h1v1h-1zM98 389h1v1h-1zM101 389h1v1h-1zM120 389h1v1h-1zM157 389h1v1h-1zM187 389h1v1h-1zM200 389h1v1h-1zM228 389h1v1h-1zM292 389h1v1h-1zM10 390h1v1h-1zM20 390h2v1h-2zM35 390h1v1h-1zM44 390h1v1h-1zM67 390h1v1h-1zM129 390h2v1h-2zM200 390h1v1h-1zM205 390h1v1h-1zM291 390h1v1h-1zM320 390h1v1h-1zM338 390h2v1h-2zM341 390h1v1h-1zM32 391h1v1h-1zM67 391h1v1h-1zM98 391h1v1h-1zM101 391h1v1h-1zM107 391h1v1h-1zM116 391h1v1h-1zM118 391h1v1h-1zM215 391h1v1h-1zM261 391h1v1h-1zM277 391h1v1h-1zM299 391h1v1h-1zM320 391h1v1h-1zM356 391h1v1h-1zM10 392h1v1h-1zM27 392h1v1h-1zM35 392h1v1h-1zM67 392h1v1h-1zM148 392h1v1h-1zM166 392h1v1h-1zM200 392h1v1h-1zM277 392h1v1h-1zM355 392h1v1h-1zM388 392h2v1h-2zM35 393h1v1h-1zM67 393h1v1h-1zM101 393h1v1h-1zM116 393h1v1h-1zM164 393h1v1h-1zM200 393h1v1h-1zM215 393h1v1h-1zM277 393h1v1h-1zM285 393h1v1h-1zM349 393h1v1h-1zM374 393h1v1h-1zM0 394h1v1h-1zM10 394h1v1h-1zM24 394h1v1h-1zM27 394h1v1h-1zM35 394h1v1h-1zM44 394h1v1h-1zM81 394h1v1h-1zM291 394h1v1h-1zM304 394h1v1h-1zM315 394h1v1h-1zM320 394h1v1h-1zM354 394h1v1h-1zM372 394h1v1h-1zM390 394h1v1h-1zM8 395h1v1h-1zM13 395h1v1h-1zM15 395h1v1h-1zM17 395h1v1h-1zM22 395h1v1h-1zM35 395h1v1h-1zM116 395h1v1h-1zM120 395h1v1h-1zM148 395h1v1h-1zM150 395h1v1h-1zM156 395h1v1h-1zM200 395h1v1h-1zM292 395h1v1h-1zM339 395h1v1h-1zM13 396h1v1h-1zM44 396h1v1h-1zM67 396h1v1h-1zM72 396h1v1h-1zM81 396h1v1h-1zM88 396h1v1h-1zM252 396h1v1h-1zM277 396h1v1h-1zM306 396h1v1h-1zM338 396h1v1h-1zM356 396h1v1h-1zM12 397h1v1h-1zM32 397h1v1h-1zM35 397h1v1h-1zM44 397h1v1h-1zM59 397h1v1h-1zM67 397h1v1h-1zM88 397h1v1h-1zM98 397h1v1h-1zM153 397h1v1h-1zM155 397h1v1h-1zM200 397h1v1h-1zM277 397h1v1h-1zM320 397h1v1h-1zM339 397h1v1h-1zM359 397h1v1h-1zM378 397h1v1h-1zM3 398h1v1h-1zM19 398h1v1h-1zM67 398h1v1h-1zM81 398h1v1h-1zM88 398h1v1h-1zM147 398h1v1h-1zM162 398h1v1h-1zM173 398h1v1h-1zM200 398h1v1h-1zM269 398h1v1h-1zM275 398h1v1h-1zM320 398h1v1h-1zM353 398h1v1h-1zM395 398h1v1h-1zM10 399h1v1h-1zM35 399h1v1h-1zM101 399h1v1h-1zM116 399h1v1h-1zM143 399h1v1h-1zM200 399h1v1h-1zM247 399h1v1h-1zM339 399h1v1h-1zM13 400h1v1h-1zM18 400h2v1h-2zM27 400h1v1h-1zM31 400h1v1h-1zM33 400h1v1h-1zM35 400h1v1h-1zM37 400h1v1h-1zM44 400h1v1h-1zM81 400h1v1h-1zM88 400h1v1h-1zM168 400h1v1h-1zM200 400h1v1h-1zM277 400h1v1h-1zM291 400h1v1h-1zM294 400h1v1h-1zM320 400h1v1h-1zM325 400h1v1h-1zM381 400h1v1h-1zM13 401h1v1h-1zM40 401h1v1h-1zM88 401h1v1h-1zM101 401h1v1h-1zM199 401h2v1h-2zM217 401h1v1h-1zM281 401h1v1h-1zM314 401h1v1h-1zM320 401h1v1h-1zM339 401h1v1h-1zM381 401h1v1h-1zM5 402h1v1h-1zM7 402h1v1h-1zM9 402h1v1h-1zM13 402h1v1h-1zM67 402h1v1h-1zM81 402h1v1h-1zM128 402h1v1h-1zM168 402h1v1h-1zM192 402h1v1h-1zM200 402h1v1h-1zM235 402h1v1h-1zM239 402h1v1h-1zM263 402h2v1h-2zM277 402h1v1h-1zM320 402h1v1h-1zM351 402h1v1h-1zM381 402h1v1h-1zM14 403h1v1h-1zM35 403h1v1h-1zM39 403h1v1h-1zM88 403h1v1h-1zM125 403h1v1h-1zM129 403h1v1h-1zM214 403h1v1h-1zM263 403h1v1h-1zM265 403h1v1h-1zM271 403h1v1h-1zM275 403h1v1h-1zM277 403h1v1h-1zM279 403h1v1h-1zM281 403h1v1h-1zM285 403h1v1h-1zM287 403h1v1h-1zM314 403h1v1h-1zM363 403h1v1h-1zM372 403h1v1h-1zM381 403h1v1h-1zM394 403h2v1h-2zM401 403h1v1h-1zM10 404h1v1h-1zM35 404h1v1h-1zM38 404h1v1h-1zM81 404h1v1h-1zM88 404h1v1h-1zM92 404h1v1h-1zM98 404h1v1h-1zM102 404h1v1h-1zM168 404h1v1h-1zM180 404h1v1h-1zM200 404h1v1h-1zM261 404h1v1h-1zM277 404h1v1h-1zM338 404h1v1h-1zM394 404h1v1h-1zM98 405h1v1h-1zM116 405h1v1h-1zM144 405h1v1h-1zM200 405h1v1h-1zM234 405h1v1h-1zM258 405h1v1h-1zM297 405h1v1h-1zM320 405h1v1h-1zM371 405h1v1h-1zM394 405h1v1h-1zM404 405h1v1h-1zM67 406h1v1h-1zM88 406h1v1h-1zM107 406h1v1h-1zM120 406h1v1h-1zM122 406h1v1h-1zM127 406h2v1h-2zM130 406h1v1h-1zM132 406h1v1h-1zM134 406h1v1h-1zM136 406h1v1h-1zM138 406h1v1h-1zM144 406h1v1h-1zM168 406h1v1h-1zM261 406h1v1h-1zM291 406h1v1h-1zM308 406h1v1h-1zM320 406h1v1h-1zM35 407h1v1h-1zM42 407h1v1h-1zM79 407h1v1h-1zM82 407h1v1h-1zM88 407h1v1h-1zM93 407h1v1h-1zM98 407h1v1h-1zM116 407h1v1h-1zM160 407h1v1h-1zM162 407h1v1h-1zM164 407h1v1h-1zM200 407h1v1h-1zM231 407h1v1h-1zM263 407h1v1h-1zM297 407h1v1h-1zM340 407h1v1h-1zM394 407h1v1h-1zM406 407h1v1h-1zM10 408h1v1h-1zM13 408h1v1h-1zM35 408h1v1h-1zM124 408h1v1h-1zM168 408h1v1h-1zM173 408h1v1h-1zM183 408h1v1h-1zM200 408h1v1h-1zM370 408h1v1h-1zM373 408h1v1h-1zM403 408h1v1h-1zM10 409h1v1h-1zM46 409h1v1h-1zM88 409h1v1h-1zM98 409h1v1h-1zM144 409h1v1h-1zM176 409h1v1h-1zM199 409h2v1h-2zM215 409h1v1h-1zM230 409h1v1h-1zM262 409h1v1h-1zM303 409h1v1h-1zM320 409h1v1h-1zM352 409h1v1h-1zM354 409h1v1h-1zM356 409h1v1h-1zM358 409h1v1h-1zM362 409h1v1h-1zM364 409h3v1h-3zM368 409h1v1h-1zM370 409h1v1h-1zM374 409h1v1h-1zM394 409h1v1h-1zM3 410h1v1h-1zM5 410h1v1h-1zM25 410h1v1h-1zM29 410h1v1h-1zM35 410h1v1h-1zM64 410h1v1h-1zM81 410h1v1h-1zM143 410h1v1h-1zM220 410h3v1h-3zM224 410h1v1h-1zM227 410h1v1h-1zM229 410h1v1h-1zM231 410h1v1h-1zM244 410h1v1h-1zM297 410h1v1h-1zM325 410h1v1h-1zM355 410h1v1h-1zM391 410h1v1h-1zM394 410h1v1h-1z" fill="#ff0000"/><path d="M10 17h1v1h-1zM17 17h1v1h-1zM7 20h1v1h-1zM11 20h1v1h-1zM15 20h2v1h-2zM4 22h1v1h-1zM8 22h1v1h-1zM12 22h2v1h-2zM15 22h3v1h-3zM21 22h2v1h-2zM0 23h1v1h-1zM3 23h2v1h-2zM6 23h2v1h-2zM10 23h1v1h-1zM14 23h1v1h-1zM15 25h1v1h-1zM17 25h2v1h-2zM22 25h1v1h-1zM24 25h2v1h-2zM4 26h3v1h-3zM8 26h2v1h-2zM11 26h2v1h-2zM14 26h1v1h-1zM16 26h1v1h-1zM24 26h2v1h-2zM7 27h1v1h-1zM11 29h1v1h-1zM15 29h1v1h-1zM17 29h1v1h-1zM20 29h1v1h-1zM0 30h1v1h-1zM18 39h1v1h-1zM28 43h1v1h-1zM2 48h1v1h-1zM46 48h1v1h-1zM2 49h1v1h-1zM19 49h1v1h-1zM26 49h1v1h-1zM3 50h1v1h-1zM5 50h1v1h-1zM13 50h1v1h-1zM15 50h1v1h-1zM7 52h1v1h-1zM11 52h1v1h-1zM14 52h3v1h-3zM19 52h1v1h-1zM2 54h3v1h-3zM7 54h2v1h-2zM12 54h1v1h-1zM14 54h1v1h-1zM16 54h1v1h-1zM22 54h1v1h-1zM25 54h1v1h-1zM27 54h1v1h-1zM4 56h1v1h-1zM7 56h1v1h-1zM9 56h4v1h-4zM14 56h1v1h-1zM16 56h1v1h-1zM19 56h2v1h-2zM22 56h2v1h-2zM48 56h1v1h-1zM3 58h1v1h-1zM5 58h1v1h-1zM8 58h2v1h-2zM12 58h1v1h-1zM14 58h1v1h-1zM17 58h2v1h-2zM20 58h1v1h-1zM28 59h1v1h-1zM27 62h1v1h-1zM29 62h1v1h-1zM27 63h1v1h-1zM6 66h1v1h-1zM10 67h1v1h-1zM21 67h1v1h-1zM28 67h1v1h-1zM33 67h1v1h-1zM67 67h1v1h-1zM42 70h1v1h-1zM44 70h1v1h-1zM48 70h1v1h-1zM54 70h1v1h-1zM56 70h1v1h-1zM60 70h1v1h-1zM64 70h2v1h-2zM28 71h1v1h-1zM2 73h1v1h-1zM37 73h1v1h-1zM10 75h1v1h-1zM13 75h3v1h-3zM17 75h4v1h-4zM27 75h1v1h-1zM67 75h1v1h-1zM67 76h1v1h-1zM0 77h1v1h-1zM12 77h1v1h-1zM15 77h1v1h-1zM20 77h1v1h-1zM22 77h1v1h-1zM0 79h3v1h-3zM7 79h1v1h-1zM9 79h3v1h-3zM13 79h1v1h-1zM16 79h1v1h-1zM21 79h1v1h-1zM26 79h2v1h-2zM52 79h1v1h-1zM3 81h1v1h-1zM9 81h3v1h-3zM13 81h1v1h-1zM17 81h1v1h-1zM20 81h2v1h-2zM28 81h1v1h-1zM25 82h1v1h-1zM2 84h2v1h-2zM8 84h2v1h-2zM15 84h1v1h-1zM19 84h1v1h-1zM28 84h1v1h-1zM53 84h1v1h-1zM73 87h1v1h-1zM0 89h1v1h-1zM61 89h1v1h-1zM69 89h1v1h-1zM73 89h1v1h-1zM75 89h1v1h-1zM15 90h1v1h-1zM21 90h1v1h-1zM50 90h1v1h-1zM15 91h1v1h-1zM24 91h1v1h-1zM80 92h1v1h-1zM83 92h1v1h-1zM15 93h1v1h-1zM32 93h1v1h-1zM35 93h1v1h-1zM37 93h1v1h-1zM65 93h1v1h-1zM88 93h1v1h-1zM91 93h1v1h-1zM80 94h1v1h-1zM15 95h1v1h-1zM27 95h1v1h-1zM11 96h1v1h-1zM18 97h2v1h-2zM21 97h1v1h-1zM25 97h2v1h-2zM31 97h1v1h-1zM33 97h2v1h-2zM80 98h1v1h-1zM20 99h1v1h-1zM65 99h1v1h-1zM66 100h1v1h-1zM65 101h1v1h-1zM7 102h1v1h-1zM11 102h1v1h-1zM65 103h1v1h-1zM13 104h1v1h-1zM68 104h1v1h-1zM5 105h1v1h-1zM13 106h1v1h-1zM15 106h1v1h-1zM68 106h1v1h-1zM104 106h1v1h-1zM14 107h1v1h-1zM31 107h1v1h-1zM13 108h1v1h-1zM20 108h1v1h-1zM98 108h1v1h-1zM13 109h1v1h-1zM20 109h1v1h-1zM26 109h1v1h-1zM70 109h1v1h-1zM98 109h1v1h-1zM2 110h1v1h-1zM4 110h1v1h-1zM8 110h1v1h-1zM12 110h1v1h-1zM14 110h1v1h-1zM26 110h1v1h-1zM28 110h1v1h-1zM102 110h1v1h-1zM13 111h1v1h-1zM70 111h1v1h-1zM91 111h1v1h-1zM98 111h1v1h-1zM13 112h1v1h-1zM94 112h1v1h-1zM13 113h1v1h-1zM37 113h2v1h-2zM40 113h2v1h-2zM46 113h3v1h-3zM50 113h1v1h-1zM53 113h4v1h-4zM59 113h2v1h-2zM63 113h1v1h-1zM68 113h1v1h-1zM70 113h1v1h-1zM72 113h3v1h-3zM79 113h1v1h-1zM86 113h1v1h-1zM91 113h1v1h-1zM98 113h1v1h-1zM100 113h1v1h-1zM102 113h1v1h-1zM104 113h1v1h-1zM106 113h2v1h-2zM109 113h1v1h-1zM15 114h1v1h-1zM30 114h1v1h-1zM32 114h1v1h-1zM34 114h1v1h-1zM0 115h1v1h-1zM4 115h1v1h-1zM8 115h4v1h-4zM98 115h1v1h-1zM67 116h1v1h-1zM94 116h1v1h-1zM6 118h1v1h-1zM8 118h3v1h-3zM15 118h1v1h-1zM19 118h1v1h-1zM67 118h1v1h-1zM72 118h1v1h-1zM98 119h1v1h-1zM107 119h1v1h-1zM119 119h1v1h-1zM87 120h1v1h-1zM94 120h1v1h-1zM10 122h1v1h-1zM71 122h1v1h-1zM98 122h1v1h-1zM5 123h1v1h-1zM10 123h1v1h-1zM12 123h3v1h-3zM17 123h1v1h-1zM22 123h2v1h-2zM25 123h1v1h-1zM27 123h1v1h-1zM30 123h1v1h-1zM36 123h1v1h-1zM38 123h1v1h-1zM42 123h2v1h-2zM48 123h1v1h-1zM52 123h1v1h-1zM57 123h3v1h-3zM61 123h3v1h-3zM66 123h1v1h-1zM73 123h1v1h-1zM75 123h1v1h-1zM77 123h2v1h-2zM81 123h1v1h-1zM83 123h2v1h-2zM89 123h1v1h-1zM95 123h1v1h-1zM98 123h2v1h-2zM121 123h1v1h-1zM94 124h1v1h-1zM98 124h1v1h-1zM121 124h1v1h-1zM11 125h1v1h-1zM15 125h1v1h-1zM17 125h1v1h-1zM79 125h1v1h-1zM102 125h1v1h-1zM121 125h1v1h-1zM13 126h1v1h-1zM15 126h1v1h-1zM21 126h1v1h-1zM23 126h1v1h-1zM27 126h1v1h-1zM2 127h5v1h-5zM9 127h1v1h-1zM11 127h1v1h-1zM13 127h1v1h-1zM88 128h1v1h-1zM98 128h1v1h-1zM27 129h1v1h-1zM36 129h1v1h-1zM64 129h1v1h-1zM86 129h1v1h-1zM98 129h1v1h-1zM112 129h1v1h-1zM121 129h1v1h-1zM5 130h1v1h-1zM8 130h1v1h-1zM11 130h4v1h-4zM88 130h1v1h-1zM47 132h1v1h-1zM115 132h1v1h-1zM121 132h1v1h-1zM87 133h1v1h-1zM40 134h1v1h-1zM93 134h1v1h-1zM121 134h1v1h-1zM88 136h1v1h-1zM23 137h1v1h-1zM13 138h1v1h-1zM88 138h1v1h-1zM134 138h1v1h-1zM4 139h1v1h-1zM27 139h1v1h-1zM83 140h1v1h-1zM88 140h1v1h-1zM17 141h1v1h-1zM72 141h1v1h-1zM91 141h1v1h-1zM121 141h1v1h-1zM21 142h1v1h-1zM88 142h1v1h-1zM119 143h1v1h-1zM141 143h1v1h-1zM18 144h1v1h-1zM29 145h1v1h-1zM88 146h1v1h-1zM121 146h1v1h-1zM121 147h1v1h-1zM126 148h1v1h-1zM110 149h1v1h-1zM121 149h1v1h-1zM88 150h1v1h-1zM144 150h1v1h-1zM0 151h3v1h-3zM5 151h4v1h-4zM91 151h1v1h-1zM110 151h1v1h-1zM126 151h1v1h-1zM55 152h1v1h-1zM110 152h1v1h-1zM126 152h1v1h-1zM110 153h2v1h-2zM121 153h1v1h-1zM144 153h1v1h-1zM16 154h1v1h-1zM18 154h1v1h-1zM40 154h1v1h-1zM55 154h1v1h-1zM63 154h1v1h-1zM67 154h1v1h-1zM126 155h1v1h-1zM55 156h1v1h-1zM109 156h1v1h-1zM126 156h1v1h-1zM126 157h1v1h-1zM20 158h1v1h-1zM26 158h1v1h-1zM29 158h1v1h-1zM55 158h1v1h-1zM100 158h2v1h-2zM67 159h1v1h-1zM79 159h1v1h-1zM110 159h1v1h-1zM112 159h1v1h-1zM126 159h1v1h-1zM137 159h1v1h-1zM1 160h1v1h-1zM4 160h1v1h-1zM8 160h1v1h-1zM12 160h1v1h-1zM18 160h2v1h-2zM22 160h1v1h-1zM24 160h1v1h-1zM27 160h1v1h-1zM121 160h1v1h-1zM146 160h1v1h-1zM44 161h1v1h-1zM110 161h1v1h-1zM2 162h1v1h-1zM6 162h3v1h-3zM11 162h2v1h-2zM17 162h1v1h-1zM43 162h1v1h-1zM110 162h1v1h-1zM121 162h1v1h-1zM126 162h1v1h-1zM11 164h1v1h-1zM44 164h1v1h-1zM55 164h1v1h-1zM121 164h1v1h-1zM2 165h1v1h-1zM7 165h1v1h-1zM12 165h3v1h-3zM16 165h1v1h-1zM18 165h2v1h-2zM23 165h3v1h-3zM44 165h1v1h-1zM110 165h1v1h-1zM121 165h1v1h-1zM21 166h1v1h-1zM43 166h2v1h-2zM55 166h1v1h-1zM83 166h1v1h-1zM110 166h1v1h-1zM121 166h1v1h-1zM126 166h1v1h-1zM44 167h1v1h-1zM110 167h1v1h-1zM26 168h1v1h-1zM43 168h1v1h-1zM126 168h1v1h-1zM158 168h1v1h-1zM26 169h1v1h-1zM65 169h1v1h-1zM109 169h3v1h-3zM115 169h1v1h-1zM117 169h1v1h-1zM126 169h1v1h-1zM4 170h1v1h-1zM6 170h1v1h-1zM9 170h1v1h-1zM11 170h2v1h-2zM14 170h2v1h-2zM18 170h1v1h-1zM23 170h1v1h-1zM43 170h1v1h-1zM110 170h1v1h-1zM144 170h1v1h-1zM4 171h1v1h-1zM110 171h1v1h-1zM121 171h1v1h-1zM40 172h1v1h-1zM43 172h2v1h-2zM55 172h1v1h-1zM110 172h1v1h-1zM126 172h1v1h-1zM110 173h1v1h-1zM121 173h1v1h-1zM20 174h1v1h-1zM43 174h1v1h-1zM48 174h1v1h-1zM55 174h2v1h-2zM80 174h1v1h-1zM86 174h1v1h-1zM88 174h1v1h-1zM158 174h1v1h-1zM43 175h2v1h-2zM65 175h1v1h-1zM121 175h1v1h-1zM4 176h2v1h-2zM7 176h1v1h-1zM9 176h5v1h-5zM15 176h1v1h-1zM17 176h2v1h-2zM20 176h3v1h-3zM24 176h3v1h-3zM43 176h1v1h-1zM114 176h1v1h-1zM126 176h1v1h-1zM138 176h1v1h-1zM6 177h1v1h-1zM121 177h1v1h-1zM6 179h1v1h-1zM173 179h1v1h-1zM9 180h1v1h-1zM27 180h1v1h-1zM34 180h1v1h-1zM85 180h1v1h-1zM91 180h1v1h-1zM102 180h1v1h-1zM180 180h1v1h-1zM5 182h1v1h-1zM7 182h1v1h-1zM15 182h2v1h-2zM20 182h1v1h-1zM22 182h1v1h-1zM24 182h1v1h-1zM43 182h1v1h-1zM150 182h1v1h-1zM179 182h2v1h-2zM117 183h1v1h-1zM179 183h1v1h-1zM121 184h1v1h-1zM127 184h1v1h-1zM179 184h1v1h-1zM0 185h2v1h-2zM3 185h3v1h-3zM8 185h7v1h-7zM18 185h2v1h-2zM21 185h1v1h-1zM25 185h1v1h-1zM27 185h1v1h-1zM121 185h1v1h-1zM1 186h1v1h-1zM43 186h1v1h-1zM23 187h1v1h-1zM44 187h1v1h-1zM133 187h1v1h-1zM43 188h2v1h-2zM83 188h1v1h-1zM103 188h1v1h-1zM134 189h1v1h-1zM138 189h1v1h-1zM11 190h1v1h-1zM27 190h1v1h-1zM70 190h1v1h-1zM121 190h1v1h-1zM188 190h2v1h-2zM1 192h1v1h-1zM132 192h2v1h-2zM25 193h1v1h-1zM12 194h1v1h-1zM102 194h1v1h-1zM140 194h1v1h-1zM179 194h1v1h-1zM6 195h1v1h-1zM8 195h1v1h-1zM11 195h1v1h-1zM13 195h2v1h-2zM17 195h1v1h-1zM55 195h1v1h-1zM102 195h1v1h-1zM108 195h1v1h-1zM114 195h1v1h-1zM118 195h1v1h-1zM121 195h1v1h-1zM124 195h1v1h-1zM126 195h1v1h-1zM180 195h1v1h-1zM12 196h1v1h-1zM102 196h1v1h-1zM191 196h1v1h-1zM24 197h1v1h-1zM102 197h1v1h-1zM121 197h1v1h-1zM184 197h1v1h-1zM18 198h1v1h-1zM81 198h1v1h-1zM121 198h1v1h-1zM179 198h1v1h-1zM4 199h1v1h-1zM9 199h1v1h-1zM41 199h1v1h-1zM102 199h2v1h-2zM121 199h1v1h-1zM181 199h1v1h-1zM25 200h1v1h-1zM58 200h1v1h-1zM102 200h1v1h-1zM140 200h1v1h-1zM142 200h2v1h-2zM179 200h1v1h-1zM194 200h1v1h-1zM24 201h1v1h-1zM168 201h1v1h-1zM184 201h1v1h-1zM201 201h1v1h-1zM68 202h1v1h-1zM133 202h1v1h-1zM179 202h1v1h-1zM194 202h1v1h-1zM0 203h2v1h-2zM4 203h1v1h-1zM7 203h6v1h-6zM16 203h4v1h-4zM21 203h2v1h-2zM107 203h1v1h-1zM11 204h1v1h-1zM162 204h1v1h-1zM179 204h1v1h-1zM194 204h1v1h-1zM114 205h1v1h-1zM161 205h2v1h-2zM164 205h1v1h-1zM167 205h3v1h-3zM171 205h1v1h-1zM21 206h1v1h-1zM179 206h1v1h-1zM14 207h1v1h-1zM38 207h1v1h-1zM121 207h1v1h-1zM67 208h1v1h-1zM114 208h1v1h-1zM148 208h2v1h-2zM151 208h1v1h-1zM153 208h1v1h-1zM179 208h1v1h-1zM32 209h1v1h-1zM7 210h3v1h-3zM11 210h3v1h-3zM15 210h2v1h-2zM19 210h3v1h-3zM23 210h2v1h-2zM54 210h1v1h-1zM81 210h1v1h-1zM114 210h1v1h-1zM10 211h1v1h-1zM18 211h1v1h-1zM89 211h1v1h-1zM152 211h1v1h-1zM51 212h1v1h-1zM54 212h1v1h-1zM121 212h1v1h-1zM162 212h1v1h-1zM190 212h1v1h-1zM192 212h2v1h-2zM197 212h2v1h-2zM10 213h1v1h-1zM14 213h1v1h-1zM112 213h1v1h-1zM114 213h1v1h-1zM126 213h1v1h-1zM185 213h2v1h-2zM189 213h1v1h-1zM192 213h1v1h-1zM14 214h1v1h-1zM136 214h1v1h-1zM179 214h1v1h-1zM10 215h1v1h-1zM14 215h1v1h-1zM114 215h1v1h-1zM118 215h1v1h-1zM185 215h1v1h-1zM55 216h1v1h-1zM63 216h2v1h-2zM67 216h1v1h-1zM77 216h1v1h-1zM93 216h1v1h-1zM121 216h1v1h-1zM199 216h1v1h-1zM92 217h1v1h-1zM114 217h1v1h-1zM121 217h1v1h-1zM185 217h1v1h-1zM6 218h1v1h-1zM114 218h1v1h-1zM127 218h1v1h-1zM162 218h1v1h-1zM179 218h1v1h-1zM26 219h1v1h-1zM0 220h1v1h-1zM2 220h1v1h-1zM5 220h4v1h-4zM10 220h1v1h-1zM13 220h1v1h-1zM15 220h1v1h-1zM17 220h3v1h-3zM63 220h2v1h-2zM108 220h1v1h-1zM114 220h1v1h-1zM162 220h1v1h-1zM188 220h1v1h-1zM22 221h1v1h-1zM121 221h1v1h-1zM22 222h1v1h-1zM78 222h1v1h-1zM132 222h1v1h-1zM162 222h1v1h-1zM112 223h1v1h-1zM114 223h1v1h-1zM121 223h1v1h-1zM184 223h1v1h-1zM198 223h1v1h-1zM121 224h1v1h-1zM157 224h1v1h-1zM162 224h2v1h-2zM165 224h1v1h-1zM167 224h1v1h-1zM169 224h1v1h-1zM171 224h2v1h-2zM0 225h13v1h-13zM14 225h5v1h-5zM20 225h2v1h-2zM23 225h5v1h-5zM80 225h2v1h-2zM114 225h1v1h-1zM136 225h1v1h-1zM184 225h1v1h-1zM192 225h1v1h-1zM121 226h1v1h-1zM162 226h1v1h-1zM175 226h1v1h-1zM181 226h1v1h-1zM215 226h1v1h-1zM223 226h1v1h-1zM8 227h1v1h-1zM112 227h1v1h-1zM184 227h1v1h-1zM0 228h1v1h-1zM3 228h1v1h-1zM5 228h3v1h-3zM9 228h1v1h-1zM11 228h2v1h-2zM14 228h1v1h-1zM18 228h2v1h-2zM23 228h1v1h-1zM25 228h1v1h-1zM27 228h1v1h-1zM61 228h1v1h-1zM91 228h1v1h-1zM114 228h1v1h-1zM121 228h1v1h-1zM198 228h1v1h-1zM8 229h1v1h-1zM15 229h1v1h-1zM121 229h1v1h-1zM184 229h1v1h-1zM47 230h1v1h-1zM53 230h1v1h-1zM55 230h1v1h-1zM102 230h1v1h-1zM114 230h1v1h-1zM196 230h1v1h-1zM198 230h1v1h-1zM28 231h1v1h-1zM81 231h1v1h-1zM98 231h1v1h-1zM112 231h1v1h-1zM121 231h1v1h-1zM198 231h1v1h-1zM1 232h2v1h-2zM6 232h1v1h-1zM10 232h2v1h-2zM13 232h1v1h-1zM15 232h1v1h-1zM48 232h1v1h-1zM61 232h1v1h-1zM114 232h1v1h-1zM121 232h1v1h-1zM178 232h1v1h-1zM192 232h1v1h-1zM25 233h1v1h-1zM78 233h1v1h-1zM80 233h3v1h-3zM86 233h1v1h-1zM90 233h1v1h-1zM102 233h1v1h-1zM104 233h2v1h-2zM112 233h1v1h-1zM120 233h1v1h-1zM122 233h1v1h-1zM124 233h1v1h-1zM126 233h1v1h-1zM136 233h1v1h-1zM166 233h1v1h-1zM211 233h1v1h-1zM213 233h1v1h-1zM218 233h1v1h-1zM223 233h1v1h-1zM225 233h1v1h-1zM228 233h2v1h-2zM231 233h1v1h-1zM233 233h1v1h-1zM48 234h1v1h-1zM52 234h1v1h-1zM54 234h1v1h-1zM56 234h1v1h-1zM114 234h1v1h-1zM121 234h1v1h-1zM198 234h1v1h-1zM200 234h1v1h-1zM56 235h1v1h-1zM62 235h1v1h-1zM66 235h1v1h-1zM91 235h1v1h-1zM112 235h1v1h-1zM114 235h1v1h-1zM184 235h1v1h-1zM198 235h1v1h-1zM10 236h1v1h-1zM48 236h1v1h-1zM198 236h1v1h-1zM6 237h1v1h-1zM51 237h1v1h-1zM81 237h1v1h-1zM171 237h1v1h-1zM184 237h1v1h-1zM198 237h1v1h-1zM48 238h1v1h-1zM64 238h1v1h-1zM136 238h1v1h-1zM173 238h1v1h-1zM181 238h1v1h-1zM183 238h1v1h-1zM198 238h1v1h-1zM6 239h1v1h-1zM81 239h1v1h-1zM112 239h1v1h-1zM114 239h1v1h-1zM184 239h1v1h-1zM198 239h1v1h-1zM5 240h2v1h-2zM9 240h4v1h-4zM15 240h2v1h-2zM21 240h2v1h-2zM118 240h1v1h-1zM215 240h1v1h-1zM226 240h1v1h-1zM228 240h1v1h-1zM230 240h1v1h-1zM234 240h1v1h-1zM236 240h1v1h-1zM238 240h1v1h-1zM3 241h1v1h-1zM6 241h1v1h-1zM15 241h1v1h-1zM21 241h1v1h-1zM27 241h1v1h-1zM29 241h1v1h-1zM67 241h1v1h-1zM112 241h1v1h-1zM166 241h1v1h-1zM184 241h1v1h-1zM198 241h1v1h-1zM114 242h1v1h-1zM121 242h1v1h-1zM152 242h1v1h-1zM240 242h1v1h-1zM6 243h1v1h-1zM81 243h1v1h-1zM112 243h1v1h-1zM121 243h1v1h-1zM198 243h1v1h-1zM17 244h1v1h-1zM106 244h1v1h-1zM121 244h1v1h-1zM198 244h2v1h-2zM202 244h1v1h-1zM40 245h1v1h-1zM58 245h1v1h-1zM91 245h1v1h-1zM136 245h1v1h-1zM166 245h1v1h-1zM6 246h1v1h-1zM198 246h1v1h-1zM240 246h1v1h-1zM62 247h1v1h-1zM81 247h1v1h-1zM112 247h1v1h-1zM133 247h1v1h-1zM184 247h1v1h-1zM198 247h1v1h-1zM10 248h1v1h-1zM22 248h1v1h-1zM24 248h1v1h-1zM114 248h1v1h-1zM121 248h1v1h-1zM198 248h1v1h-1zM200 248h1v1h-1zM6 249h1v1h-1zM108 249h1v1h-1zM112 249h1v1h-1zM166 249h1v1h-1zM172 249h1v1h-1zM175 249h1v1h-1zM180 249h1v1h-1zM182 249h1v1h-1zM184 249h1v1h-1zM198 249h1v1h-1zM47 250h1v1h-1zM62 250h1v1h-1zM100 250h1v1h-1zM121 250h1v1h-1zM196 250h1v1h-1zM198 250h1v1h-1zM240 250h1v1h-1zM8 251h1v1h-1zM22 251h1v1h-1zM112 251h1v1h-1zM114 251h1v1h-1zM121 251h1v1h-1zM198 251h1v1h-1zM2 252h1v1h-1zM90 252h1v1h-1zM102 252h1v1h-1zM114 252h1v1h-1zM121 252h1v1h-1zM149 252h1v1h-1zM248 252h1v1h-1zM6 253h1v1h-1zM62 253h1v1h-1zM106 253h1v1h-1zM112 253h1v1h-1zM121 253h1v1h-1zM184 253h1v1h-1zM198 253h1v1h-1zM240 253h1v1h-1zM8 254h1v1h-1zM26 254h1v1h-1zM47 254h1v1h-1zM114 254h1v1h-1zM121 254h1v1h-1zM173 254h1v1h-1zM205 254h1v1h-1zM240 254h1v1h-1zM25 255h1v1h-1zM27 255h1v1h-1zM62 255h1v1h-1zM81 255h1v1h-1zM114 255h1v1h-1zM118 255h1v1h-1zM184 255h1v1h-1zM47 256h1v1h-1zM114 256h1v1h-1zM240 256h1v1h-1zM1 257h1v1h-1zM20 257h1v1h-1zM62 257h1v1h-1zM67 257h1v1h-1zM81 257h1v1h-1zM112 257h1v1h-1zM159 257h1v1h-1zM124 258h1v1h-1zM6 259h1v1h-1zM112 259h1v1h-1zM114 259h1v1h-1zM121 259h1v1h-1zM147 259h1v1h-1zM175 259h1v1h-1zM248 259h1v1h-1zM67 260h1v1h-1zM94 260h1v1h-1zM121 260h1v1h-1zM178 260h1v1h-1zM200 260h1v1h-1zM240 260h1v1h-1zM6 261h1v1h-1zM47 261h1v1h-1zM51 261h1v1h-1zM53 261h1v1h-1zM55 261h1v1h-1zM61 261h3v1h-3zM65 261h1v1h-1zM112 261h1v1h-1zM121 261h1v1h-1zM178 261h1v1h-1zM184 261h1v1h-1zM1 262h1v1h-1zM23 262h1v1h-1zM61 262h1v1h-1zM124 262h1v1h-1zM178 262h1v1h-1zM240 262h1v1h-1zM260 262h1v1h-1zM6 263h1v1h-1zM9 263h1v1h-1zM46 263h1v1h-1zM82 263h1v1h-1zM99 263h1v1h-1zM112 263h1v1h-1zM166 263h1v1h-1zM184 263h1v1h-1zM223 263h1v1h-1zM227 263h1v1h-1zM244 263h1v1h-1zM251 263h1v1h-1zM76 264h1v1h-1zM121 264h1v1h-1zM124 264h1v1h-1zM221 264h1v1h-1zM27 265h1v1h-1zM166 265h1v1h-1zM184 265h1v1h-1zM202 265h1v1h-1zM237 265h1v1h-1zM2 266h1v1h-1zM101 266h1v1h-1zM117 266h1v1h-1zM121 266h1v1h-1zM124 266h1v1h-1zM171 266h1v1h-1zM5 267h1v1h-1zM62 267h1v1h-1zM184 267h1v1h-1zM240 267h1v1h-1zM1 268h2v1h-2zM76 268h1v1h-1zM207 268h1v1h-1zM221 268h1v1h-1zM240 268h1v1h-1zM1 269h1v1h-1zM81 269h1v1h-1zM83 269h1v1h-1zM85 269h1v1h-1zM87 269h1v1h-1zM93 269h1v1h-1zM95 269h1v1h-1zM97 269h1v1h-1zM99 269h1v1h-1zM113 269h1v1h-1zM115 269h1v1h-1zM119 269h1v1h-1zM166 269h1v1h-1zM184 269h1v1h-1zM210 269h1v1h-1zM2 270h1v1h-1zM17 270h1v1h-1zM22 270h1v1h-1zM76 270h1v1h-1zM95 270h1v1h-1zM186 270h1v1h-1zM211 270h1v1h-1zM226 270h1v1h-1zM264 270h1v1h-1zM12 271h1v1h-1zM15 271h1v1h-1zM62 271h1v1h-1zM95 271h1v1h-1zM184 271h1v1h-1zM240 271h1v1h-1zM0 272h1v1h-1zM2 272h1v1h-1zM4 272h1v1h-1zM6 272h1v1h-1zM15 272h1v1h-1zM19 272h1v1h-1zM44 272h1v1h-1zM143 272h1v1h-1zM178 272h1v1h-1zM250 272h1v1h-1zM13 273h1v1h-1zM67 273h1v1h-1zM166 273h1v1h-1zM8 274h1v1h-1zM76 274h2v1h-2zM117 274h1v1h-1zM119 274h1v1h-1zM121 274h1v1h-1zM240 274h1v1h-1zM62 275h1v1h-1zM184 275h1v1h-1zM274 275h2v1h-2zM2 276h1v1h-1zM102 276h1v1h-1zM160 276h1v1h-1zM233 276h1v1h-1zM23 277h1v1h-1zM71 277h1v1h-1zM85 277h1v1h-1zM155 277h1v1h-1zM185 277h1v1h-1zM2 278h1v1h-1zM72 278h1v1h-1zM273 278h1v1h-1zM277 278h1v1h-1zM27 279h1v1h-1zM29 279h1v1h-1zM53 279h1v1h-1zM62 279h1v1h-1zM155 279h1v1h-1zM184 279h1v1h-1zM186 279h1v1h-1zM102 280h1v1h-1zM121 280h1v1h-1zM20 281h1v1h-1zM22 281h1v1h-1zM25 281h3v1h-3zM29 281h4v1h-4zM34 281h1v1h-1zM62 281h1v1h-1zM184 281h1v1h-1zM198 281h1v1h-1zM243 281h1v1h-1zM215 282h1v1h-1zM247 282h1v1h-1zM6 283h1v1h-1zM8 283h3v1h-3zM13 283h1v1h-1zM15 283h3v1h-3zM112 283h1v1h-1zM23 284h1v1h-1zM76 284h1v1h-1zM176 284h1v1h-1zM196 284h1v1h-1zM274 284h1v1h-1zM52 285h1v1h-1zM56 285h1v1h-1zM121 285h1v1h-1zM246 285h1v1h-1zM14 287h1v1h-1zM28 287h1v1h-1zM133 287h1v1h-1zM138 287h1v1h-1zM140 287h1v1h-1zM144 287h1v1h-1zM184 287h1v1h-1zM205 287h1v1h-1zM250 287h1v1h-1zM9 288h1v1h-1zM76 288h1v1h-1zM176 288h1v1h-1zM240 288h1v1h-1zM250 288h1v1h-1zM184 289h1v1h-1zM240 289h1v1h-1zM2 290h1v1h-1zM98 290h1v1h-1zM110 290h1v1h-1zM112 290h1v1h-1zM116 290h1v1h-1zM118 290h1v1h-1zM122 290h1v1h-1zM156 290h1v1h-1zM160 290h1v1h-1zM176 290h1v1h-1zM250 290h1v1h-1zM285 290h1v1h-1zM289 290h1v1h-1zM70 291h1v1h-1zM3 292h2v1h-2zM6 292h5v1h-5zM12 292h3v1h-3zM16 292h1v1h-1zM18 292h1v1h-1zM250 292h1v1h-1zM70 293h1v1h-1zM136 293h1v1h-1zM138 293h1v1h-1zM140 293h1v1h-1zM144 293h1v1h-1zM148 293h1v1h-1zM183 293h1v1h-1zM221 293h1v1h-1zM250 293h1v1h-1zM2 294h2v1h-2zM9 294h1v1h-1zM36 294h1v1h-1zM52 294h1v1h-1zM78 294h1v1h-1zM90 294h1v1h-1zM138 294h1v1h-1zM200 294h1v1h-1zM220 294h1v1h-1zM240 294h1v1h-1zM11 295h1v1h-1zM121 295h1v1h-1zM184 295h1v1h-1zM205 295h1v1h-1zM240 295h1v1h-1zM9 296h1v1h-1zM47 296h1v1h-1zM62 296h1v1h-1zM121 296h1v1h-1zM143 296h3v1h-3zM147 296h1v1h-1zM164 296h2v1h-2zM217 296h1v1h-1zM254 296h1v1h-1zM121 297h1v1h-1zM129 297h1v1h-1zM184 297h1v1h-1zM295 297h1v1h-1zM9 298h1v1h-1zM58 298h1v1h-1zM62 298h1v1h-1zM24 299h1v1h-1zM70 299h1v1h-1zM121 299h1v1h-1zM182 299h1v1h-1zM184 299h1v1h-1zM291 299h1v1h-1zM8 300h1v1h-1zM10 300h1v1h-1zM13 300h1v1h-1zM15 300h1v1h-1zM17 300h2v1h-2zM20 300h1v1h-1zM23 300h1v1h-1zM27 300h1v1h-1zM36 300h1v1h-1zM82 300h1v1h-1zM118 300h1v1h-1zM128 300h1v1h-1zM274 300h1v1h-1zM1 301h1v1h-1zM70 301h1v1h-1zM125 301h1v1h-1zM168 301h1v1h-1zM171 301h1v1h-1zM5 302h1v1h-1zM9 302h1v1h-1zM26 302h1v1h-1zM62 302h1v1h-1zM79 302h1v1h-1zM98 302h1v1h-1zM185 302h1v1h-1zM205 302h1v1h-1zM209 302h1v1h-1zM229 302h1v1h-1zM249 302h2v1h-2zM274 302h1v1h-1zM297 302h1v1h-1zM70 303h1v1h-1zM295 303h1v1h-1zM297 303h1v1h-1zM33 304h1v1h-1zM69 304h1v1h-1zM78 304h1v1h-1zM121 304h1v1h-1zM195 304h5v1h-5zM203 304h2v1h-2zM207 304h5v1h-5zM214 304h4v1h-4zM219 304h1v1h-1zM221 304h1v1h-1zM230 304h1v1h-1zM274 304h1v1h-1zM297 304h1v1h-1zM7 305h1v1h-1zM22 305h1v1h-1zM25 305h1v1h-1zM70 305h1v1h-1zM214 305h1v1h-1zM244 305h1v1h-1zM251 305h1v1h-1zM270 305h1v1h-1zM295 305h1v1h-1zM10 306h1v1h-1zM274 306h1v1h-1zM16 307h1v1h-1zM29 307h1v1h-1zM33 307h1v1h-1zM94 307h1v1h-1zM172 307h1v1h-1zM300 307h1v1h-1zM302 307h1v1h-1zM304 307h1v1h-1zM33 308h1v1h-1zM62 308h1v1h-1zM274 308h1v1h-1zM297 308h1v1h-1zM121 309h1v1h-1zM133 309h1v1h-1zM161 309h1v1h-1zM172 309h1v1h-1zM174 309h1v1h-1zM200 309h1v1h-1zM232 309h1v1h-1zM273 309h1v1h-1zM1 310h1v1h-1zM3 310h1v1h-1zM49 310h1v1h-1zM121 310h1v1h-1zM261 310h1v1h-1zM267 310h1v1h-1zM269 310h1v1h-1zM297 310h1v1h-1zM304 310h1v1h-1zM10 311h1v1h-1zM104 311h1v1h-1zM174 311h1v1h-1zM273 311h1v1h-1zM309 311h1v1h-1zM79 312h1v1h-1zM87 312h1v1h-1zM89 312h1v1h-1zM92 312h2v1h-2zM98 312h1v1h-1zM172 312h1v1h-1zM230 312h1v1h-1zM273 312h1v1h-1zM297 312h1v1h-1zM28 313h1v1h-1zM104 313h1v1h-1zM174 313h1v1h-1zM224 313h1v1h-1zM228 313h1v1h-1zM232 313h1v1h-1zM236 313h1v1h-1zM273 313h1v1h-1zM15 314h1v1h-1zM27 314h3v1h-3zM62 314h1v1h-1zM130 314h1v1h-1zM273 314h1v1h-1zM74 315h1v1h-1zM121 315h1v1h-1zM141 315h1v1h-1zM233 315h1v1h-1zM14 316h1v1h-1zM52 316h1v1h-1zM62 316h1v1h-1zM79 316h1v1h-1zM96 316h1v1h-1zM133 316h1v1h-1zM146 316h1v1h-1zM195 316h1v1h-1zM273 316h1v1h-1zM297 316h1v1h-1zM74 317h1v1h-1zM117 317h1v1h-1zM264 317h1v1h-1zM297 317h1v1h-1zM20 318h1v1h-1zM37 318h1v1h-1zM121 318h1v1h-1zM205 318h1v1h-1zM207 318h1v1h-1zM211 318h1v1h-1zM217 318h1v1h-1zM250 318h1v1h-1zM281 318h1v1h-1zM297 318h1v1h-1zM8 319h1v1h-1zM11 319h1v1h-1zM15 319h1v1h-1zM20 319h1v1h-1zM22 319h1v1h-1zM68 319h1v1h-1zM108 319h1v1h-1zM120 319h2v1h-2zM144 319h1v1h-1zM148 319h1v1h-1zM200 319h1v1h-1zM273 319h1v1h-1zM281 319h1v1h-1zM297 319h1v1h-1zM306 319h1v1h-1zM79 320h2v1h-2zM82 320h1v1h-1zM84 320h1v1h-1zM86 320h1v1h-1zM90 320h1v1h-1zM99 320h1v1h-1zM222 320h1v1h-1zM234 320h4v1h-4zM239 320h3v1h-3zM243 320h1v1h-1zM281 320h1v1h-1zM18 321h1v1h-1zM20 321h1v1h-1zM74 321h1v1h-1zM281 321h1v1h-1zM62 322h1v1h-1zM114 322h1v1h-1zM221 322h1v1h-1zM275 322h1v1h-1zM281 322h1v1h-1zM20 323h1v1h-1zM28 323h1v1h-1zM74 323h1v1h-1zM86 323h1v1h-1zM99 323h1v1h-1zM177 323h1v1h-1zM188 323h2v1h-2zM219 323h1v1h-1zM226 323h1v1h-1zM281 323h1v1h-1zM297 323h1v1h-1zM323 323h1v1h-1zM43 324h1v1h-1zM45 324h1v1h-1zM62 324h1v1h-1zM115 324h1v1h-1zM121 324h1v1h-1zM164 324h1v1h-1zM222 324h1v1h-1zM269 324h1v1h-1zM277 324h1v1h-1zM281 324h1v1h-1zM24 325h1v1h-1zM30 325h3v1h-3zM34 325h3v1h-3zM43 325h2v1h-2zM47 325h3v1h-3zM53 325h1v1h-1zM60 325h2v1h-2zM66 325h1v1h-1zM71 325h1v1h-1zM74 325h1v1h-1zM76 325h1v1h-1zM78 325h1v1h-1zM81 325h1v1h-1zM85 325h1v1h-1zM88 325h1v1h-1zM90 325h2v1h-2zM96 325h1v1h-1zM98 325h2v1h-2zM104 325h1v1h-1zM106 325h1v1h-1zM109 325h3v1h-3zM113 325h1v1h-1zM121 325h1v1h-1zM123 325h1v1h-1zM273 325h1v1h-1zM79 326h1v1h-1zM222 326h1v1h-1zM281 326h1v1h-1zM215 327h1v1h-1zM241 327h1v1h-1zM281 327h1v1h-1zM33 328h1v1h-1zM281 328h1v1h-1zM26 329h1v1h-1zM44 329h1v1h-1zM46 329h1v1h-1zM51 329h4v1h-4zM56 329h4v1h-4zM68 329h1v1h-1zM74 329h1v1h-1zM153 329h1v1h-1zM155 329h1v1h-1zM161 329h1v1h-1zM163 329h1v1h-1zM165 329h1v1h-1zM167 329h1v1h-1zM173 329h1v1h-1zM179 329h1v1h-1zM181 329h1v1h-1zM200 329h1v1h-1zM297 329h1v1h-1zM50 330h1v1h-1zM281 330h1v1h-1zM14 331h1v1h-1zM109 331h1v1h-1zM217 331h1v1h-1zM82 332h1v1h-1zM173 332h1v1h-1zM182 332h1v1h-1zM217 332h1v1h-1zM250 332h1v1h-1zM295 332h1v1h-1zM297 332h1v1h-1zM14 333h1v1h-1zM52 333h1v1h-1zM65 333h1v1h-1zM74 333h1v1h-1zM85 333h1v1h-1zM121 333h1v1h-1zM128 333h1v1h-1zM202 333h1v1h-1zM219 333h1v1h-1zM274 333h1v1h-1zM276 333h1v1h-1zM278 333h1v1h-1zM280 333h1v1h-1zM286 333h1v1h-1zM288 333h1v1h-1zM290 333h1v1h-1zM14 334h1v1h-1zM62 334h1v1h-1zM79 334h1v1h-1zM144 334h1v1h-1zM200 334h1v1h-1zM273 334h1v1h-1zM281 334h1v1h-1zM5 335h1v1h-1zM9 335h1v1h-1zM12 335h5v1h-5zM19 335h1v1h-1zM58 335h1v1h-1zM62 335h1v1h-1zM64 335h1v1h-1zM121 335h1v1h-1zM128 335h1v1h-1zM179 335h1v1h-1zM217 335h1v1h-1zM219 335h2v1h-2zM297 335h1v1h-1zM309 335h1v1h-1zM14 336h1v1h-1zM36 336h1v1h-1zM62 336h1v1h-1zM99 336h1v1h-1zM217 336h1v1h-1zM273 336h1v1h-1zM281 336h1v1h-1zM292 336h1v1h-1zM294 336h1v1h-1zM306 336h1v1h-1zM312 336h1v1h-1zM324 336h1v1h-1zM326 336h1v1h-1zM121 337h1v1h-1zM128 337h1v1h-1zM219 337h1v1h-1zM273 337h1v1h-1zM297 337h1v1h-1zM4 338h1v1h-1zM6 338h2v1h-2zM10 338h1v1h-1zM13 338h2v1h-2zM52 338h1v1h-1zM62 338h1v1h-1zM121 338h1v1h-1zM127 338h1v1h-1zM143 338h1v1h-1zM169 338h1v1h-1zM273 338h1v1h-1zM292 338h1v1h-1zM298 338h1v1h-1zM302 338h1v1h-1zM304 338h1v1h-1zM306 338h1v1h-1zM314 338h1v1h-1zM316 338h1v1h-1zM322 338h1v1h-1zM324 338h1v1h-1zM328 338h1v1h-1zM332 338h1v1h-1zM334 338h1v1h-1zM336 338h1v1h-1zM338 338h1v1h-1zM11 339h1v1h-1zM128 339h1v1h-1zM219 339h1v1h-1zM232 339h1v1h-1zM237 339h2v1h-2zM241 339h1v1h-1zM271 339h1v1h-1zM281 339h1v1h-1zM11 340h1v1h-1zM72 340h1v1h-1zM115 340h1v1h-1zM165 340h1v1h-1zM167 340h1v1h-1zM171 340h1v1h-1zM173 340h1v1h-1zM179 340h1v1h-1zM187 340h1v1h-1zM189 340h1v1h-1zM193 340h1v1h-1zM14 341h1v1h-1zM181 341h1v1h-1zM219 341h1v1h-1zM233 341h1v1h-1zM341 341h1v1h-1zM14 342h2v1h-2zM162 342h1v1h-1zM207 342h1v1h-1zM254 342h1v1h-1zM14 343h1v1h-1zM38 343h1v1h-1zM57 343h1v1h-1zM121 343h1v1h-1zM128 343h1v1h-1zM277 343h1v1h-1zM279 343h1v1h-1zM281 343h1v1h-1zM285 343h1v1h-1zM287 343h1v1h-1zM289 343h1v1h-1zM291 343h1v1h-1zM293 343h1v1h-1zM8 344h1v1h-1zM12 344h1v1h-1zM14 344h2v1h-2zM18 344h1v1h-1zM21 344h1v1h-1zM38 344h1v1h-1zM58 344h1v1h-1zM64 344h1v1h-1zM200 344h1v1h-1zM14 345h1v1h-1zM28 345h1v1h-1zM37 345h1v1h-1zM48 345h1v1h-1zM155 345h1v1h-1zM162 345h1v1h-1zM176 345h1v1h-1zM185 345h1v1h-1zM14 346h1v1h-1zM62 346h1v1h-1zM142 346h1v1h-1zM184 346h1v1h-1zM247 346h1v1h-1zM345 346h1v1h-1zM14 347h1v1h-1zM37 347h1v1h-1zM79 347h1v1h-1zM81 347h1v1h-1zM87 347h1v1h-1zM89 347h1v1h-1zM97 347h1v1h-1zM121 347h1v1h-1zM144 347h1v1h-1zM196 347h1v1h-1zM267 347h1v1h-1zM305 347h1v1h-1zM7 348h1v1h-1zM13 348h3v1h-3zM19 348h1v1h-1zM23 348h1v1h-1zM25 348h1v1h-1zM62 348h1v1h-1zM211 348h1v1h-1zM215 348h1v1h-1zM217 348h1v1h-1zM221 348h1v1h-1zM223 348h1v1h-1zM227 348h1v1h-1zM229 348h1v1h-1zM237 348h1v1h-1zM239 348h1v1h-1zM241 348h1v1h-1zM243 348h1v1h-1zM245 348h1v1h-1zM247 348h1v1h-1zM251 348h1v1h-1zM257 348h1v1h-1zM259 348h1v1h-1zM261 348h1v1h-1zM265 348h1v1h-1zM269 348h1v1h-1zM330 348h1v1h-1zM2 349h1v1h-1zM7 349h1v1h-1zM17 349h1v1h-1zM37 349h1v1h-1zM127 349h3v1h-3zM131 349h8v1h-8zM286 349h1v1h-1zM62 350h1v1h-1zM82 350h1v1h-1zM251 350h1v1h-1zM347 350h1v1h-1zM14 351h1v1h-1zM16 351h1v1h-1zM21 351h1v1h-1zM26 351h1v1h-1zM36 351h2v1h-2zM62 351h1v1h-1zM67 351h1v1h-1zM228 351h1v1h-1zM242 351h1v1h-1zM286 351h1v1h-1zM4 352h1v1h-1zM12 352h1v1h-1zM14 352h1v1h-1zM51 352h1v1h-1zM58 352h1v1h-1zM80 352h1v1h-1zM106 352h1v1h-1zM12 353h1v1h-1zM14 353h1v1h-1zM20 353h1v1h-1zM37 353h1v1h-1zM62 353h1v1h-1zM138 353h1v1h-1zM286 353h1v1h-1zM9 354h1v1h-1zM13 354h3v1h-3zM17 354h1v1h-1zM19 354h1v1h-1zM23 354h1v1h-1zM25 354h1v1h-1zM27 354h1v1h-1zM207 354h1v1h-1zM344 354h1v1h-1zM347 354h1v1h-1zM14 355h1v1h-1zM48 355h1v1h-1zM62 355h1v1h-1zM138 355h1v1h-1zM286 355h1v1h-1zM323 355h1v1h-1zM13 356h2v1h-2zM62 356h2v1h-2zM109 356h1v1h-1zM291 356h1v1h-1zM340 356h1v1h-1zM354 356h1v1h-1zM14 357h1v1h-1zM33 357h1v1h-1zM35 357h1v1h-1zM39 357h1v1h-1zM43 357h1v1h-1zM45 357h1v1h-1zM62 357h1v1h-1zM67 357h1v1h-1zM90 357h2v1h-2zM94 357h2v1h-2zM99 357h2v1h-2zM103 357h1v1h-1zM106 357h1v1h-1zM121 357h1v1h-1zM138 357h1v1h-1zM323 357h1v1h-1zM62 358h1v1h-1zM296 358h1v1h-1zM300 358h1v1h-1zM302 358h1v1h-1zM352 358h1v1h-1zM354 358h1v1h-1zM356 358h3v1h-3zM14 359h2v1h-2zM62 359h1v1h-1zM126 359h1v1h-1zM128 359h1v1h-1zM130 359h1v1h-1zM2 360h2v1h-2zM62 360h1v1h-1zM82 360h1v1h-1zM121 360h1v1h-1zM264 360h2v1h-2zM289 360h1v1h-1zM292 360h1v1h-1zM297 360h1v1h-1zM21 361h1v1h-1zM62 361h1v1h-1zM128 361h1v1h-1zM209 361h1v1h-1zM286 361h1v1h-1zM12 362h1v1h-1zM46 362h1v1h-1zM51 362h1v1h-1zM53 362h1v1h-1zM56 362h1v1h-1zM61 362h2v1h-2zM64 362h1v1h-1zM69 362h3v1h-3zM75 362h1v1h-1zM77 362h4v1h-4zM82 362h3v1h-3zM86 362h2v1h-2zM91 362h1v1h-1zM111 362h1v1h-1zM121 362h1v1h-1zM125 362h1v1h-1zM163 362h1v1h-1zM5 363h1v1h-1zM21 363h1v1h-1zM62 363h1v1h-1zM101 363h1v1h-1zM121 363h1v1h-1zM200 363h1v1h-1zM320 363h1v1h-1zM324 363h1v1h-1zM356 363h1v1h-1zM14 364h1v1h-1zM58 364h1v1h-1zM62 364h1v1h-1zM121 364h1v1h-1zM147 364h1v1h-1zM154 364h1v1h-1zM157 364h2v1h-2zM160 364h1v1h-1zM162 364h3v1h-3zM167 364h1v1h-1zM169 364h1v1h-1zM213 364h1v1h-1zM215 364h1v1h-1zM220 364h2v1h-2zM225 364h1v1h-1zM227 364h1v1h-1zM231 364h1v1h-1zM341 364h1v1h-1zM3 365h1v1h-1zM10 365h1v1h-1zM25 365h1v1h-1zM61 365h1v1h-1zM141 365h1v1h-1zM14 366h1v1h-1zM44 366h1v1h-1zM250 366h1v1h-1zM121 367h1v1h-1zM10 368h1v1h-1zM62 368h1v1h-1zM121 368h1v1h-1zM125 368h1v1h-1zM127 368h1v1h-1zM129 368h2v1h-2zM132 368h1v1h-1zM134 368h3v1h-3zM308 368h1v1h-1zM323 368h1v1h-1zM361 368h1v1h-1zM45 369h1v1h-1zM47 369h1v1h-1zM107 369h1v1h-1zM215 370h1v1h-1zM240 370h1v1h-1zM320 370h1v1h-1zM341 370h1v1h-1zM16 371h1v1h-1zM167 371h1v1h-1zM353 371h1v1h-1zM357 371h1v1h-1zM365 371h1v1h-1zM3 372h1v1h-1zM10 372h1v1h-1zM62 372h1v1h-1zM151 372h1v1h-1zM175 372h1v1h-1zM204 372h1v1h-1zM292 372h1v1h-1zM368 372h1v1h-1zM101 373h1v1h-1zM128 373h1v1h-1zM5 374h1v1h-1zM17 374h1v1h-1zM62 374h1v1h-1zM110 374h1v1h-1zM151 374h1v1h-1zM262 374h1v1h-1zM71 375h1v1h-1zM101 375h1v1h-1zM184 375h1v1h-1zM186 375h1v1h-1zM188 375h1v1h-1zM192 375h1v1h-1zM196 375h1v1h-1zM200 375h1v1h-1zM224 375h1v1h-1zM290 375h7v1h-7zM298 375h1v1h-1zM300 375h1v1h-1zM303 375h3v1h-3zM308 375h1v1h-1zM310 375h1v1h-1zM313 375h2v1h-2zM317 375h2v1h-2zM320 375h1v1h-1zM322 375h4v1h-4zM328 375h1v1h-1zM352 375h1v1h-1zM62 376h1v1h-1zM121 376h1v1h-1zM192 376h1v1h-1zM250 376h1v1h-1zM307 376h1v1h-1zM320 376h1v1h-1zM347 376h1v1h-1zM369 376h1v1h-1zM62 377h1v1h-1zM71 377h1v1h-1zM119 377h1v1h-1zM167 377h1v1h-1zM174 377h1v1h-1zM286 377h1v1h-1zM3 378h1v1h-1zM6 378h5v1h-5zM12 378h1v1h-1zM14 378h1v1h-1zM16 378h3v1h-3zM62 378h1v1h-1zM121 378h1v1h-1zM151 378h1v1h-1zM174 378h1v1h-1zM213 378h1v1h-1zM221 378h1v1h-1zM371 378h1v1h-1zM41 379h1v1h-1zM45 379h1v1h-1zM62 379h1v1h-1zM101 379h1v1h-1zM131 379h1v1h-1zM151 379h1v1h-1zM174 379h1v1h-1zM200 379h1v1h-1zM12 380h1v1h-1zM62 380h1v1h-1zM179 380h1v1h-1zM245 380h1v1h-1zM250 380h1v1h-1zM257 380h1v1h-1zM1 381h1v1h-1zM62 381h1v1h-1zM105 381h1v1h-1zM120 381h1v1h-1zM151 381h1v1h-1zM174 381h1v1h-1zM286 381h1v1h-1zM344 381h1v1h-1zM346 381h1v1h-1zM350 381h1v1h-1zM352 381h1v1h-1zM354 381h1v1h-1zM356 381h1v1h-1zM360 381h1v1h-1zM362 381h1v1h-1zM364 381h1v1h-1zM366 381h1v1h-1zM23 382h1v1h-1zM62 382h1v1h-1zM113 382h1v1h-1zM121 382h1v1h-1zM258 382h1v1h-1zM62 383h1v1h-1zM120 383h2v1h-2zM133 383h1v1h-1zM190 383h1v1h-1zM200 383h1v1h-1zM285 383h2v1h-2zM336 383h1v1h-1zM338 383h1v1h-1zM340 383h1v1h-1zM1 384h6v1h-6zM8 384h2v1h-2zM11 384h1v1h-1zM14 384h1v1h-1zM16 384h1v1h-1zM19 384h1v1h-1zM35 384h1v1h-1zM49 384h1v1h-1zM85 384h1v1h-1zM87 384h1v1h-1zM89 384h2v1h-2zM97 384h1v1h-1zM113 384h1v1h-1zM232 384h1v1h-1zM9 385h1v1h-1zM23 385h1v1h-1zM286 385h1v1h-1zM292 385h1v1h-1zM300 385h2v1h-2zM306 385h2v1h-2zM309 385h1v1h-1zM311 385h1v1h-1zM315 385h1v1h-1zM16 386h1v1h-1zM32 386h1v1h-1zM44 386h1v1h-1zM81 386h1v1h-1zM312 386h1v1h-1zM71 387h1v1h-1zM214 387h1v1h-1zM286 387h1v1h-1zM367 387h1v1h-1zM237 388h1v1h-1zM7 389h1v1h-1zM9 389h1v1h-1zM11 389h1v1h-1zM15 389h1v1h-1zM17 389h1v1h-1zM19 389h1v1h-1zM23 389h1v1h-1zM25 389h1v1h-1zM32 389h1v1h-1zM71 389h1v1h-1zM207 389h1v1h-1zM209 389h1v1h-1zM286 389h1v1h-1zM305 389h1v1h-1zM383 389h1v1h-1zM3 390h1v1h-1zM7 390h1v1h-1zM11 390h1v1h-1zM18 390h1v1h-1zM23 390h1v1h-1zM49 390h1v1h-1zM121 390h1v1h-1zM370 390h1v1h-1zM378 390h1v1h-1zM386 390h1v1h-1zM388 390h1v1h-1zM1 391h1v1h-1zM71 391h1v1h-1zM84 391h1v1h-1zM120 391h1v1h-1zM200 391h1v1h-1zM285 391h1v1h-1zM387 391h1v1h-1zM16 392h1v1h-1zM21 392h1v1h-1zM81 392h1v1h-1zM121 392h1v1h-1zM246 392h1v1h-1zM40 393h1v1h-1zM71 393h1v1h-1zM121 393h1v1h-1zM175 393h1v1h-1zM222 393h1v1h-1zM234 393h1v1h-1zM67 394h1v1h-1zM152 394h1v1h-1zM167 394h1v1h-1zM234 394h1v1h-1zM306 394h1v1h-1zM308 394h1v1h-1zM312 394h1v1h-1zM316 394h1v1h-1zM322 394h1v1h-1zM324 394h1v1h-1zM326 394h1v1h-1zM330 394h1v1h-1zM332 394h1v1h-1zM338 394h1v1h-1zM340 394h1v1h-1zM342 394h1v1h-1zM346 394h1v1h-1zM348 394h1v1h-1zM358 394h1v1h-1zM360 394h1v1h-1zM362 394h1v1h-1zM366 394h1v1h-1zM370 394h1v1h-1zM374 394h1v1h-1zM2 395h1v1h-1zM6 395h1v1h-1zM10 395h1v1h-1zM14 395h1v1h-1zM18 395h3v1h-3zM25 395h3v1h-3zM121 395h1v1h-1zM198 395h2v1h-2zM234 395h1v1h-1zM35 396h1v1h-1zM113 396h1v1h-1zM152 396h1v1h-1zM162 396h1v1h-1zM172 396h1v1h-1zM174 396h1v1h-1zM176 396h1v1h-1zM180 396h1v1h-1zM184 396h1v1h-1zM186 396h1v1h-1zM188 396h1v1h-1zM199 396h1v1h-1zM234 396h1v1h-1zM266 396h1v1h-1zM71 397h1v1h-1zM94 397h1v1h-1zM101 397h1v1h-1zM137 397h1v1h-1zM199 397h1v1h-1zM234 397h2v1h-2zM314 397h1v1h-1zM0 398h2v1h-2zM4 398h1v1h-1zM6 398h7v1h-7zM16 398h2v1h-2zM20 398h2v1h-2zM46 398h1v1h-1zM131 398h1v1h-1zM137 398h1v1h-1zM152 398h1v1h-1zM199 398h1v1h-1zM277 398h1v1h-1zM279 398h1v1h-1zM284 398h1v1h-1zM286 398h1v1h-1zM290 398h1v1h-1zM294 398h1v1h-1zM338 398h1v1h-1zM71 399h1v1h-1zM133 399h1v1h-1zM234 399h1v1h-1zM244 399h1v1h-1zM277 399h1v1h-1zM319 399h1v1h-1zM6 400h1v1h-1zM10 400h2v1h-2zM15 400h1v1h-1zM17 400h1v1h-1zM20 400h5v1h-5zM67 400h1v1h-1zM121 400h1v1h-1zM234 400h1v1h-1zM399 400h1v1h-1zM277 401h1v1h-1zM22 402h2v1h-2zM121 402h1v1h-1zM213 402h1v1h-1zM215 402h1v1h-1zM221 402h1v1h-1zM223 402h1v1h-1zM227 402h1v1h-1zM234 402h1v1h-1zM237 402h1v1h-1zM243 402h1v1h-1zM315 402h1v1h-1zM401 402h1v1h-1zM4 403h4v1h-4zM9 403h5v1h-5zM15 403h3v1h-3zM19 403h1v1h-1zM71 403h1v1h-1zM200 403h1v1h-1zM261 403h1v1h-1zM21 404h1v1h-1zM113 404h1v1h-1zM121 404h1v1h-1zM234 404h1v1h-1zM275 404h1v1h-1zM11 405h1v1h-1zM78 405h1v1h-1zM101 405h1v1h-1zM277 405h1v1h-1zM360 405h1v1h-1zM378 405h1v1h-1zM381 405h1v1h-1zM2 406h1v1h-1zM8 406h1v1h-1zM10 406h1v1h-1zM12 406h7v1h-7zM20 406h1v1h-1zM22 406h1v1h-1zM89 406h1v1h-1zM93 406h1v1h-1zM126 406h1v1h-1zM152 406h1v1h-1zM234 406h1v1h-1zM277 406h1v1h-1zM325 406h1v1h-1zM330 406h1v1h-1zM394 406h1v1h-1zM14 407h1v1h-1zM67 407h1v1h-1zM70 407h2v1h-2zM73 407h2v1h-2zM76 407h1v1h-1zM80 407h2v1h-2zM87 407h1v1h-1zM90 407h1v1h-1zM92 407h1v1h-1zM126 407h1v1h-1zM144 407h1v1h-1zM206 407h1v1h-1zM234 408h1v1h-1zM117 409h1v1h-1zM121 409h1v1h-1zM162 409h1v1h-1zM164 409h2v1h-2zM168 409h1v1h-1zM174 409h1v1h-1zM184 409h1v1h-1zM202 409h1v1h-1zM204 409h1v1h-1zM206 409h1v1h-1zM208 409h1v1h-1zM212 409h1v1h-1zM214 409h1v1h-1zM216 409h1v1h-1zM218 409h1v1h-1zM220 409h1v1h-1zM222 409h1v1h-1zM224 409h1v1h-1zM228 409h1v1h-1zM234 409h1v1h-1zM372 409h1v1h-1zM1 410h2v1h-2zM4 410h1v1h-1zM8 410h3v1h-3zM12 410h10v1h-10zM24 410h1v1h-1zM27 410h1v1h-1zM67 410h1v1h-1zM121 410h1v1h-1zM165 410h1v1h-1zM200 410h1v1h-1zM206 410h1v1h-1z" fill="#0000ff"/></g>
<rect x="384" y="150" width="20.5" height="20" fill="#ed1c24"/>
<rect x="384" y="191" width="20.5" height="20" fill="#3953a4"/>
<text x="415.5" y="168.4" font-size="37" fill="#231f20">coefficient &gt;0</text>
<text x="415.5" y="208.5" font-size="37" fill="#231f20">coefficient &lt;0</text>
<line x1="140.5" y1="124" x2="140.5" y2="641" stroke="#000" stroke-width="3.2"/>
<line x1="139" y1="630.7" x2="646.6" y2="630.7" stroke="#000" stroke-width="3.2"/>
<line x1="128" y1="126.2" x2="140.5" y2="126.2" stroke="#000" stroke-width="3.2"/>
<text x="123" y="136.7" font-size="34" text-anchor="end" fill="#231f20">0</text>
<line x1="140.5" y1="630.7" x2="140.5" y2="640.7" stroke="#000" stroke-width="3.2"/>
<text x="142.5" y="671.5" font-size="34" text-anchor="middle" fill="#231f20">0</text>
<line x1="128" y1="248.0" x2="140.5" y2="248.0" stroke="#000" stroke-width="3.2"/>
<text x="126.2" y="258.8" font-size="34" text-anchor="end" fill="#231f20">100</text>
<line x1="262.3" y1="630.7" x2="262.3" y2="640.7" stroke="#000" stroke-width="3.2"/>
<text x="264.3" y="671.5" font-size="34" text-anchor="middle" fill="#231f20">100</text>
<line x1="128" y1="369.8" x2="140.5" y2="369.8" stroke="#000" stroke-width="3.2"/>
<text x="126.2" y="380.6" font-size="34" text-anchor="end" fill="#231f20">200</text>
<line x1="384.1" y1="630.7" x2="384.1" y2="640.7" stroke="#000" stroke-width="3.2"/>
<text x="386.1" y="671.5" font-size="34" text-anchor="middle" fill="#231f20">200</text>
<line x1="128" y1="491.59999999999997" x2="140.5" y2="491.59999999999997" stroke="#000" stroke-width="3.2"/>
<text x="126.2" y="502.4" font-size="34" text-anchor="end" fill="#231f20">300</text>
<line x1="505.9" y1="630.7" x2="505.9" y2="640.7" stroke="#000" stroke-width="3.2"/>
<text x="507.9" y="671.5" font-size="34" text-anchor="middle" fill="#231f20">300</text>
<line x1="128" y1="613.4" x2="140.5" y2="613.4" stroke="#000" stroke-width="3.2"/>
<text x="126.2" y="624.1999999999999" font-size="34" text-anchor="end" fill="#231f20">400</text>
<line x1="627.7" y1="630.7" x2="627.7" y2="640.7" stroke="#000" stroke-width="3.2"/>
<text x="629.7" y="671.5" font-size="34" text-anchor="middle" fill="#231f20">400</text>
<text x="355.5" y="725" font-size="41.5" fill="#231f20">ROI</text>
<text x="0" y="0" font-size="42.5" fill="#231f20" transform="translate(54.5,399.2) rotate(-90)">ROI</text>
<text x="751.3" y="100.2" font-size="41.2" fill="#231f20">FC Coefficients: Magnitude</text>
<text x="0" y="0" font-size="41" fill="#231f20" transform="translate(778.6,529.5) rotate(-90)">No. of FC variables</text>
<path d="M936.80 357.4V354.2H943.06V353.0H949.32V354.2H955.58V351.9H961.84V350.7H968.10V346.9H974.36V345.7H980.62V345.4H986.88V342.7H993.14V335.6H999.40V323.0H1005.66V306.5H1011.92V311.8H1018.18V287.1H1024.44V269.2H1030.70V230.2H1036.96V219.9H1043.22V207.5H1049.48V202.9H1055.74V173.7H1062.00V170.3H1068.26V200.2H1074.52V146.4H1080.78V184.7H1087.04V206.3H1093.30V172.2H1099.56V199.9H1105.82V199.1H1112.08V216.9H1118.34V203.2H1124.60V205.2H1130.86V237.1H1137.12V239.3H1143.38V240.4H1149.64V251.0H1155.90V300.0H1162.16V320.0H1168.42V340.0H1174.68V350.0H1180.94V354.0H1187.20V355.3H1193.46V357.4Z" fill="#ff9fa1"/>
<path d="M1143.38 357.4V340.2H1149.64V288.3H1155.90V258.3H1162.16V254.2H1168.42V288.3H1174.68V304.8H1180.94V337.9H1187.20V354.1H1193.46V357.4Z" fill="#ff0000"/>
<path d="M955.58 614.5V611.6H961.84V610.5H968.10V609.0H974.36V607.0H980.62V603.9H986.88V607.8H993.14V599.5H999.40V589.0H1005.66V573.9H1011.92V565.4H1018.18V554.1H1024.44V545.1H1030.70V550.0H1036.96V530.4H1043.22V517.9H1049.48V489.1H1055.74V499.5H1062.00V494.1H1068.26V481.0H1074.52V503.7H1080.78V484.3H1087.04V488.4H1093.30V483.3H1099.56V489.4H1105.82V499.7H1112.08V488.4H1118.34V504.1H1124.60V511.1H1130.86V530.6H1137.12V510.1H1143.38V537.9H1149.64V531.6H1155.90V570.0H1162.16V590.0H1168.42V600.0H1174.68V608.0H1180.94V611.0H1187.20V612.5H1193.46V614.5Z" fill="#a0c1fd"/>
<path d="M1143.38 614.5V600.0H1149.64V550.6H1155.90V558.8H1162.16V565.1H1168.42V583.3H1174.68V596.0H1180.94V602.1H1187.20V611.1H1193.46V614.5Z" fill="#0000ff"/>
<line x1="876.2" y1="134.9" x2="876.2" y2="358.0" stroke="#000" stroke-width="3.2"/>
<line x1="874.6" y1="356.4" x2="1243.7" y2="356.4" stroke="#000" stroke-width="3.2"/>
<line x1="864.9" y1="150.2" x2="876.2" y2="150.2" stroke="#000" stroke-width="3.2"/>
<line x1="864.9" y1="202" x2="876.2" y2="202" stroke="#000" stroke-width="3.2"/>
<line x1="864.9" y1="253.4" x2="876.2" y2="253.4" stroke="#000" stroke-width="3.2"/>
<line x1="864.9" y1="305" x2="876.2" y2="305" stroke="#000" stroke-width="3.2"/>
<line x1="864.9" y1="356.4" x2="876.2" y2="356.4" stroke="#000" stroke-width="3.2"/>
<text x="858" y="159.89999999999998" font-size="34" text-anchor="end" fill="#231f20">200</text>
<text x="858" y="259.9" font-size="34" text-anchor="end" fill="#231f20">100</text>
<text x="858" y="360.9" font-size="34" text-anchor="end" fill="#231f20">0</text>
<line x1="934.7" y1="356.4" x2="934.7" y2="367.9" stroke="#000" stroke-width="3.2"/>
<line x1="1018.2" y1="356.4" x2="1018.2" y2="367.9" stroke="#000" stroke-width="3.2"/>
<line x1="1101.7" y1="356.4" x2="1101.7" y2="367.9" stroke="#000" stroke-width="3.2"/>
<line x1="1185.2" y1="356.4" x2="1185.2" y2="367.9" stroke="#000" stroke-width="3.2"/>
<line x1="876.2" y1="392.3" x2="876.2" y2="615.1" stroke="#000" stroke-width="3.2"/>
<line x1="874.6" y1="613.5" x2="1243.7" y2="613.5" stroke="#000" stroke-width="3.2"/>
<line x1="864.9" y1="406.8" x2="876.2" y2="406.8" stroke="#000" stroke-width="3.2"/>
<line x1="864.9" y1="458.6" x2="876.2" y2="458.6" stroke="#000" stroke-width="3.2"/>
<line x1="864.9" y1="510.3" x2="876.2" y2="510.3" stroke="#000" stroke-width="3.2"/>
<line x1="864.9" y1="562.1" x2="876.2" y2="562.1" stroke="#000" stroke-width="3.2"/>
<line x1="864.9" y1="613.5" x2="876.2" y2="613.5" stroke="#000" stroke-width="3.2"/>
<text x="858" y="418.2" font-size="34" text-anchor="end" fill="#231f20">200</text>
<text x="858" y="523.0" font-size="34" text-anchor="end" fill="#231f20">100</text>
<text x="858" y="615.1" font-size="34" text-anchor="end" fill="#231f20">0</text>
<line x1="934.7" y1="613.5" x2="934.7" y2="625.0" stroke="#000" stroke-width="3.2"/>
<line x1="1018.2" y1="613.5" x2="1018.2" y2="625.0" stroke="#000" stroke-width="3.2"/>
<line x1="1101.7" y1="613.5" x2="1101.7" y2="625.0" stroke="#000" stroke-width="3.2"/>
<line x1="1185.2" y1="613.5" x2="1185.2" y2="625.0" stroke="#000" stroke-width="3.2"/>
<text x="931.5" y="657.4" font-size="34" text-anchor="middle" fill="#231f20">-8</text>
<text x="1015.0" y="657.4" font-size="34" text-anchor="middle" fill="#231f20">-6</text>
<text x="1098.5" y="657.4" font-size="34" text-anchor="middle" fill="#231f20">-4</text>
<text x="1182.0" y="657.4" font-size="34" text-anchor="middle" fill="#231f20">-2</text>
<text x="894" y="167.7" font-size="33" fill="#231f20">coeff. &gt;0</text>
<text x="895.2" y="206.89999999999998" font-size="33" fill="#231f20">(</text>
<text x="931.5" y="206.89999999999998" font-size="33" fill="#231f20">trend</text>
<text x="894.5" y="247.2" font-size="33" fill="#231f20">in HA)</text>
<line x1="914.8" y1="177.5" x2="914.8" y2="204.8" stroke="#231f20" stroke-width="1.5"/>
<path d="M906.2 197.6Q912 201.1 914.8 207.8Q917.6 201.1 923.1 197.6Q917.5 200.6 914.8 203.8Q912.1 200.6 906.2 197.6Z" fill="#231f20" stroke="#231f20" stroke-width="0.8"/>
<text x="894" y="426.7" font-size="33" fill="#231f20">coeff. &lt;0</text>
<text x="895.2" y="465.9" font-size="33" fill="#231f20">(</text>
<text x="931.5" y="465.9" font-size="33" fill="#231f20">trend</text>
<text x="894.5" y="506.2" font-size="33" fill="#231f20">in HA)</text>
<line x1="914.6" y1="439.3" x2="914.6" y2="466.5" stroke="#231f20" stroke-width="1.5"/>
<path d="M906.6 446.2Q912 442.7 914.6 436.3Q917.2 442.7 923 446.2Q917.3 443.2 914.6 440.3Q911.9 443.2 906.6 446.2Z" fill="#231f20" stroke="#231f20" stroke-width="0.8"/>
<text x="893.6" y="701.6" font-size="44" fill="#231f20">log</text><text x="954.6" y="716.8" font-size="27" fill="#231f20">10</text><text x="984.5" y="701.6" font-size="44" fill="#231f20">(</text><text x="999.5" y="701.6" font-size="44" fill="#231f20">|</text><text x="1010.6" y="701.6" font-size="44" fill="#231f20">μ</text><text x="1035.5" y="716.8" font-size="26.4" fill="#231f20">FC coefficient</text><text x="1198.0" y="701.6" font-size="44" fill="#231f20">|</text><text x="1209.1" y="701.6" font-size="44" fill="#231f20">)</text>
<path d="M228.0 1166.0 L432.0 962.0 L452.0 951.5 L468.5 941.0 L483.0 934.0 L502.0 923.5 L516.0 915.0 L533.0 908.0 L545.0 897.0 L560.0 889.5 L578.0 884.0 L575.0 903.0 L562.0 907.0 L533.0 922.0 L497.6 942.0 L478.9 957.0 L462.3 973.0 L436.0 989.0 L403.4 1011.3 L367.5 1043.2 L347.9 1059.5 L330.0 1066.0 L318.0 1077.0 L301.6 1092.4 L278.0 1116.0 L254.4 1139.6 L236.0 1158.0Z" fill="#bfbf00" stroke="#bfbf00" stroke-width="11.0" stroke-linejoin="round"/><path d="M161.5 1232.8h0M176.1 1218.2h0M204.8 1189.5h0M215.7 1178.2h0M227.8 1165.9h0M246.0 1146.6h0M255.3 1137.3h0M267.9 1124.7h0M317.9 1084.5h0M328.7 1076.4h0M344.9 1065.6h0M363.7 1048.1h0M379.9 1036.0h0M398.8 1014.4h0M432.4 993.0h0M283.0 1113.0h0M240.0 1156.0h0M543.0 896.0h0M584.9 882.0h0M470.0 968.0h0M520.0 932.0h0M300.0 1097.0h0M560.0 906.0h0M443.2 987.2h0M491.4 949.0h0M490.7 950.0h0M521.1 929.9h0M544.5 918.1h0M529.1 928.7h0M412.7 1009.6h0M350.3 1061.0h0M525.4 928.9h0M551.4 914.4h0M351.1 1057.9h0M445.5 984.9h0M474.0 966.2h0M508.6 939.9h0M432.2 993.7h0M384.9 1032.1h0M464.0 975.8h0M470.8 968.9h0M550.2 916.3h0M367.0 1047.8h0M555.1 912.5h0M455.3 980.7h0M381.3 1032.9h0M532.5 924.8h0M403.5 1015.4h0M360.0 1053.3h0M424.2 999.0h0M392.8 1025.8h0M538.3 922.4h0M468.1 971.0h0M527.4 925.8h0M380.7 1034.7h0M494.9 945.9h0M464.7 974.6h0M349.4 1061.0h0M379.8 1036.7h0M354.5 1057.6h0M465.0 975.0h0M455.8 978.9h0M403.7 1014.7h0M515.6 913.2h0M526.5 908.6h0M471.0 937.7h0M528.8 909.0h0M531.5 906.4h0M509.9 916.9h0M541.5 897.8h0M540.0 899.9h0M490.6 927.9h0M491.7 926.9h0M450.5 950.4h0M527.5 908.2h0M538.7 902.3h0M486.4 931.4h0" stroke="#bfbf00" stroke-width="11.0" stroke-linecap="round" fill="none"/><path d="M570.0 902.0 L580.0 889.0 L590.0 884.0 L600.0 880.0 L618.0 877.0 L633.0 879.0 L640.0 884.0 L645.0 889.0 L640.0 890.0 L628.0 894.0 L616.0 898.0 L597.0 898.0 L583.0 902.0 L571.0 907.0Z" fill="#008000" stroke="#008000" stroke-width="11.0" stroke-linejoin="round"/><path d="M569.5 906.0h0M575.0 890.0h0M588.0 880.0h0M603.0 877.0h0M618.0 874.0h0M628.0 875.0h0M636.0 878.0h0M641.0 883.0h0M645.0 889.0h0M639.0 892.0h0M626.0 896.0h0M612.0 899.0h0M600.0 898.0h0M585.0 902.0h0M573.0 907.0h0M567.0 905.0h0M580.0 897.0h0M595.0 893.0h0M610.0 890.0h0M625.0 888.0h0" stroke="#008000" stroke-width="11.0" stroke-linecap="round" fill="none"/>
<line x1="126.2" y1="771" x2="126.2" y2="1349.6" stroke="#000" stroke-width="3.2"/>
<line x1="124.6" y1="1348" x2="701.7" y2="1348" stroke="#000" stroke-width="3.2"/>
<line x1="114.5" y1="772.7" x2="126.2" y2="772.7" stroke="#000" stroke-width="3.2"/>
<line x1="159.8" y1="1348" x2="159.8" y2="1359" stroke="#000" stroke-width="3.2"/>
<line x1="114.5" y1="840.4000000000001" x2="126.2" y2="840.4000000000001" stroke="#000" stroke-width="3.2"/>
<line x1="227.5" y1="1348" x2="227.5" y2="1359" stroke="#000" stroke-width="3.2"/>
<line x1="114.5" y1="908.1" x2="126.2" y2="908.1" stroke="#000" stroke-width="3.2"/>
<line x1="295.20000000000005" y1="1348" x2="295.20000000000005" y2="1359" stroke="#000" stroke-width="3.2"/>
<line x1="114.5" y1="975.8000000000001" x2="126.2" y2="975.8000000000001" stroke="#000" stroke-width="3.2"/>
<line x1="362.90000000000003" y1="1348" x2="362.90000000000003" y2="1359" stroke="#000" stroke-width="3.2"/>
<line x1="114.5" y1="1043.5" x2="126.2" y2="1043.5" stroke="#000" stroke-width="3.2"/>
<line x1="430.6" y1="1348" x2="430.6" y2="1359" stroke="#000" stroke-width="3.2"/>
<line x1="114.5" y1="1111.2" x2="126.2" y2="1111.2" stroke="#000" stroke-width="3.2"/>
<line x1="498.3" y1="1348" x2="498.3" y2="1359" stroke="#000" stroke-width="3.2"/>
<line x1="114.5" y1="1178.9" x2="126.2" y2="1178.9" stroke="#000" stroke-width="3.2"/>
<line x1="566.0" y1="1348" x2="566.0" y2="1359" stroke="#000" stroke-width="3.2"/>
<line x1="114.5" y1="1246.6000000000001" x2="126.2" y2="1246.6000000000001" stroke="#000" stroke-width="3.2"/>
<line x1="633.7" y1="1348" x2="633.7" y2="1359" stroke="#000" stroke-width="3.2"/>
<line x1="114.5" y1="1314.3000000000002" x2="126.2" y2="1314.3000000000002" stroke="#000" stroke-width="3.2"/>
<line x1="701.4000000000001" y1="1348" x2="701.4000000000001" y2="1359" stroke="#000" stroke-width="3.2"/>
<text x="105" y="854.1000000000001" font-size="33" text-anchor="end" fill="#231f20">-2</text>
<text x="630.5" y="1402" font-size="33" text-anchor="middle" fill="#231f20">-2</text>
<text x="105" y="989.5000000000001" font-size="33" text-anchor="end" fill="#231f20">-4</text>
<text x="495.1" y="1402" font-size="33" text-anchor="middle" fill="#231f20">-4</text>
<text x="105" y="1124.9" font-size="33" text-anchor="end" fill="#231f20">-6</text>
<text x="359.70000000000005" y="1402" font-size="33" text-anchor="middle" fill="#231f20">-6</text>
<text x="105" y="1260.3000000000002" font-size="33" text-anchor="end" fill="#231f20">-8</text>
<text x="224.3" y="1402" font-size="33" text-anchor="middle" fill="#231f20">-8</text>
<line x1="134" y1="1339.9" x2="701.5" y2="772.4" stroke="#000" stroke-width="3.2" stroke-dasharray="7.2 7.2"/>
<text x="237.0" y="1464.3" font-size="44" fill="#231f20">log</text><text x="298.0" y="1479.5" font-size="27" fill="#231f20">10</text><text x="327.9" y="1464.3" font-size="44" fill="#231f20">(</text><text x="342.9" y="1464.3" font-size="44" fill="#231f20">|</text><text x="354.0" y="1464.3" font-size="44" fill="#231f20">μ</text><text x="378.9" y="1479.5" font-size="26.4" fill="#231f20">FC coefficient</text><text x="541.4" y="1464.3" font-size="44" fill="#231f20">|</text><text x="552.5" y="1464.3" font-size="44" fill="#231f20">)</text>
<g transform="translate(41.7,1235.7) rotate(-90)"><text x="-3.3" y="0.0" font-size="44" fill="#231f20">log</text><text x="57.7" y="15.2" font-size="27" fill="#231f20">10</text><text x="87.6" y="0.0" font-size="44" fill="#231f20">(</text><text x="102.6" y="0.0" font-size="44" fill="#231f20">|</text><text x="113.7" y="0.0" font-size="44" fill="#231f20">σ</text><text x="138.6" y="15.2" font-size="26.4" fill="#231f20">FC coefficient</text><text x="301.1" y="0.0" font-size="44" fill="#231f20">|</text><text x="312.2" y="0.0" font-size="44" fill="#231f20">)</text></g>
<circle cx="410.4" cy="1150.4" r="5.5" fill="#c2c23a"/>
<circle cx="410.4" cy="1241" r="5.5" fill="#0b7b40"/>
<text x="429.5" y="1146.8" font-size="33" fill="#231f20">FC coefficient !=0</text>
<text x="429.5" y="1186" font-size="33" fill="#231f20">in atleast one rep.</text>
<text x="429.5" y="1240.1" font-size="33" fill="#231f20">FC coefficient !=0</text>
<text x="429.5" y="1279.7" font-size="33" fill="#231f20">in &gt; 70% reps.</text>
<line x1="389.3" y1="1323.2" x2="425" y2="1323.2" stroke="#000" stroke-width="3.3" stroke-dasharray="6.7 7.7"/>
<text x="430.6" y="1329" font-size="33" fill="#231f20">μ = σ</text>
<path d="M1038 889 L1031 895 L1030 902 L1029 990 L1030 1000 L1038 1003 L1040 1020 L1041.6 1030 L1043.7 1043 L1044.2 1060 L1044.2 1262 L1047 1269 L1056 1269 L1066 1262 L1066 1140 L1072 1128 L1062 1110 L1056 1095 L1055 1060 L1055 1000 L1054.6 895 L1051 889Z" fill="#bfbf00"/><circle cx="1037.0" cy="881.8" r="5.3" fill="#bfbf00" fill-opacity="0.5"/><circle cx="1041.4" cy="882.6" r="5.3" fill="#bfbf00" fill-opacity="0.5"/><circle cx="1048.4" cy="883.5" r="5.3" fill="#bfbf00" fill-opacity="0.5"/><circle cx="1030.9" cy="888.8" r="5.3" fill="#bfbf00" fill-opacity="0.5"/><circle cx="1034.4" cy="892.3" r="5.3" fill="#bfbf00" fill-opacity="0.5"/><circle cx="1046.7" cy="894.0" r="5.3" fill="#bfbf00" fill-opacity="0.5"/><circle cx="1050.0" cy="897.5" r="5.3" fill="#bfbf00" fill-opacity="0.5"/><circle cx="1040.0" cy="890.0" r="5.3" fill="#bfbf00" fill-opacity="0.5"/><circle cx="1038.8" cy="1032.3" r="5.3" fill="#bfbf00" fill-opacity="0.5"/><circle cx="1032.9" cy="1004.9" r="5.3" fill="#bfbf00" fill-opacity="0.5"/><circle cx="1032.4" cy="1013.5" r="5.3" fill="#bfbf00" fill-opacity="0.5"/><circle cx="1035.0" cy="1009.0" r="5.3" fill="#bfbf00" fill-opacity="0.5"/><circle cx="1065.8" cy="1109.9" r="5.3" fill="#bfbf00" fill-opacity="0.5"/><circle cx="1077.6" cy="1130.4" r="5.3" fill="#bfbf00" fill-opacity="0.5"/><circle cx="1051.8" cy="1267.0" r="5.3" fill="#bfbf00" fill-opacity="0.5"/><circle cx="1067.0" cy="1267.0" r="5.3" fill="#bfbf00" fill-opacity="0.5"/><circle cx="1066.1" cy="1110.3" r="5.3" fill="#bfbf00" fill-opacity="0.5"/><circle cx="1078.7" cy="1130.5" r="5.3" fill="#bfbf00" fill-opacity="0.5"/><circle cx="1060.0" cy="1102.0" r="5.3" fill="#bfbf00" fill-opacity="0.5"/><circle cx="1032.7" cy="1004.3" r="5.3" fill="#bfbf00" fill-opacity="0.5"/><circle cx="1050.0" cy="1262.0" r="5.3" fill="#bfbf00" fill-opacity="0.5"/><circle cx="1060.0" cy="1263.0" r="5.3" fill="#bfbf00" fill-opacity="0.5"/><circle cx="1070.0" cy="1120.0" r="5.3" fill="#bfbf00" fill-opacity="0.5"/><path d="M970.0 902.0 L984.0 901.0 L1001.0 900.0 L1009.0 890.0 L1014.0 896.0 L1025.7 897.5 L1030.0 910.6 L1034.5 922.9 L1032.7 936.0 L1030.0 948.0 L1032.7 965.0 L1032.7 975.4 L1032.7 986.8 L1024.8 992.0 L1017.4 998.2 L1009.9 990.3 L1005.0 982.0 L997.7 972.8 L988.0 973.7 L979.3 966.7 L978.4 954.4 L980.0 946.0 L978.0 937.0 L977.0 928.0 L972.0 925.0 L970.0 912.0Z" fill="#008000" stroke="#008000" stroke-width="10.6" stroke-linejoin="round"/><path d="M1072.0 1142.0 L1082.0 1141.0 L1094.0 1139.0 L1101.0 1152.0 L1113.0 1160.0 L1125.0 1167.0 L1133.0 1175.0 L1135.0 1182.0 L1134.0 1198.0 L1132.0 1215.0 L1140.0 1234.0 L1158.0 1240.0 L1153.0 1257.0 L1141.0 1251.0 L1124.0 1259.0 L1107.0 1259.0 L1091.0 1264.0 L1078.0 1252.0 L1069.0 1240.0 L1069.0 1198.0 L1067.0 1168.0 L1070.0 1152.0Z" fill="#008000" stroke="#008000" stroke-width="10.6" stroke-linejoin="round"/><path d="M924.6 815.1h0M881.0 828.4h0M902.5 833.8h0M1028.2 851.4h0M996.3 858.9h0M957.4 859.2h0M964.7 861.1h0M961.0 870.9h0M948.0 875.6h0M955.0 878.7h0M970.6 880.7h0M877.4 876.3h0M896.6 872.4h0M902.1 876.3h0M909.9 885.4h0M904.9 894.7h0M910.2 907.2h0M900.5 916.8h0M927.3 903.6h0M922.6 937.9h0M928.5 946.8h0M948.5 946.8h0M991.6 871.4h0M1000.2 876.3h0M1005.7 878.7h0M956.6 893.5h0M950.4 911.9h0M955.8 937.1h0M966.0 930.9h0M979.2 954.2h0M979.2 966.7h0M987.7 974.5h0M1009.6 990.1h0M1003.3 999.4h0M1022.1 1032.5h0M1004.3 1002.6h0M1017.3 998.9h0M948.2 876.1h0M954.3 878.5h0M961.5 871.8h0M970.6 880.6h0M991.2 873.0h0M998.5 876.7h0M1003.4 879.1h0M956.7 893.7h0M959.7 902.7h0M967.6 901.5h0M974.9 902.1h0M984.6 900.9h0M990.6 902.7h0M1008.2 890.0h0M950.6 911.8h0M957.3 917.3h0M965.2 912.5h0M966.4 921.5h0M966.4 930.6h0M956.1 937.3h0M948.2 946.4h0M930.0 903.4h0M930.0 946.4h0M978.5 953.7h0M1016.0 888.0h0M1027.0 897.0h0M1033.0 908.0h0M1036.0 920.0h0M1033.0 935.0h0M1032.0 950.0h0M1034.0 965.0h0M1034.0 980.0h0M1025.0 993.0h0M1014.0 998.0h0M1090.2 1105.3h0M1073.7 1120.1h0M1102.7 1127.2h0M1163.8 1181.9h0M1167.2 1187.0h0M1164.3 1200.5h0M1162.1 1211.4h0M1177.3 1201.3h0M1188.2 1210.6h0M1210.1 1208.0h0M1146.1 1184.8h0M1148.7 1203.8h0M1150.8 1213.1h0M1141.1 1231.6h0M1159.6 1242.6h0M1178.1 1241.7h0M1187.4 1239.2h0M1183.2 1254.4h0M1222.8 1253.2h0M1157.9 1261.1h0M1147.0 1259.4h0M1157.1 1276.3h0M1195.8 1277.1h0M1167.2 1286.4h0M1178.1 1284.7h0M1176.5 1293.1h0M1137.7 1289.7h0M1145.3 1290.6h0M1100.6 1282.2h0M1100.6 1288.1h0M1118.3 1282.2h0M1124.2 1268.7h0M1105.7 1305.7h0M1159.6 1303.2h0M1164.7 1311.6h0M1185.7 1315.8h0M1198.4 1317.5h0M1088.9 1268.7h0M1126.8 1255.2h0M1146.1 1258.6h0M1277.3 1284.5h0M1068.0 1140.0h0M1080.0 1136.0h0M1095.0 1134.0h0M1104.0 1147.0h0M1116.0 1155.0h0M1128.0 1162.0h0M1137.0 1171.0h0M1140.0 1181.0h0M1138.0 1198.0h0M1137.0 1214.0h0M1144.0 1231.0h0M1163.0 1241.0h0M1157.0 1259.0h0M1125.0 1264.0h0M1108.0 1264.0h0M1091.0 1269.0h0M1075.0 1256.0h0M1066.0 1240.0h0M1066.0 1198.0h0M1064.0 1168.0h0M1067.0 1150.0h0M1032.5 965.4h0M1023.8 992.1h0M972.2 924.4h0M1031.8 968.6h0M1033.6 983.2h0M1017.8 998.0h0M1017.3 894.5h0M1032.7 983.1h0M1009.6 991.6h0M977.2 960.8h0M998.0 901.7h0M1033.7 922.6h0M996.4 898.1h0M978.1 955.0h0M998.2 976.4h0M982.3 901.0h0M970.8 908.1h0M969.3 911.7h0M1005.8 984.8h0M1012.0 992.1h0M1010.5 893.2h0M974.5 901.8h0M1033.0 989.4h0M987.0 899.4h0M1018.2 897.6h0M1027.9 905.5h0M979.4 902.3h0M1031.8 968.1h0M1033.6 963.0h0M980.6 945.2h0M1033.1 985.8h0M1007.8 987.0h0M1032.2 978.9h0M1004.3 982.6h0M1032.0 966.3h0M1032.4 914.4h0M970.7 903.5h0M969.9 903.1h0M980.6 945.8h0M995.1 972.7h0M1070.6 1153.6h0M1069.6 1214.3h0M1133.2 1211.3h0M1066.3 1183.5h0M1134.1 1175.9h0M1148.1 1236.5h0M1066.7 1195.2h0M1092.9 1262.8h0M1101.5 1153.6h0M1071.5 1146.3h0M1133.9 1177.3h0M1133.0 1194.4h0M1069.7 1225.5h0M1134.0 1219.8h0M1133.6 1208.3h0M1096.6 1144.4h0M1099.4 1149.0h0M1114.2 1261.1h0M1136.7 1187.3h0M1107.1 1260.1h0M1141.3 1235.0h0M1155.3 1251.9h0M1069.7 1157.6h0M1147.4 1253.5h0M1116.9 1257.6h0M1066.5 1190.5h0M1127.5 1167.7h0M1118.6 1160.7h0M1068.7 1176.3h0M1068.0 1209.3h0M1134.8 1190.6h0M1129.5 1169.5h0M1069.2 1238.1h0M1066.0 1162.0h0M1129.8 1173.4h0M1068.0 1159.7h0M1066.8 1184.7h0M1106.3 1261.3h0M1159.1 1240.9h0M1102.2 1151.6h0M1085.7 1138.7h0M1067.9 1154.0h0M1134.6 1186.7h0M1075.0 1250.0h0M1136.3 1192.9h0M1067.0 1207.2h0M1108.9 1259.2h0M1134.6 1207.4h0M1125.7 1165.2h0M1071.7 1244.9h0" stroke="#008000" stroke-width="10.6" stroke-linecap="round" fill="none"/>
<line x1="857.8" y1="789.1" x2="857.8" y2="1344.5" stroke="#000" stroke-width="3.5"/>
<line x1="856.1" y1="1342.8" x2="1297.5" y2="1342.8" stroke="#000" stroke-width="3.4"/>
<line x1="848.2" y1="860.6" x2="857.8" y2="860.6" stroke="#000" stroke-width="3.2"/>
<text x="840" y="872.1" font-size="33" text-anchor="end" fill="#231f20">1.0</text>
<line x1="848.2" y1="959.4000000000001" x2="857.8" y2="959.4000000000001" stroke="#000" stroke-width="3.2"/>
<text x="840" y="970.9000000000001" font-size="33" text-anchor="end" fill="#231f20">0.5</text>
<line x1="848.2" y1="1058.2" x2="857.8" y2="1058.2" stroke="#000" stroke-width="3.2"/>
<text x="840" y="1069.7" font-size="33" text-anchor="end" fill="#231f20">0</text>
<line x1="848.2" y1="1157.0" x2="857.8" y2="1157.0" stroke="#000" stroke-width="3.2"/>
<text x="840" y="1168.5" font-size="33" text-anchor="end" fill="#231f20">-0.5</text>
<line x1="848.2" y1="1255.8" x2="857.8" y2="1255.8" stroke="#000" stroke-width="3.2"/>
<text x="840" y="1267.3" font-size="33" text-anchor="end" fill="#231f20">-1.0</text>
<line x1="903.3000000000001" y1="1342.8" x2="903.3000000000001" y2="1354.3" stroke="#000" stroke-width="3.2"/>
<line x1="976.5" y1="1342.8" x2="976.5" y2="1354.3" stroke="#000" stroke-width="3.2"/>
<line x1="1049.7" y1="1342.8" x2="1049.7" y2="1354.3" stroke="#000" stroke-width="3.2"/>
<line x1="1122.9" y1="1342.8" x2="1122.9" y2="1354.3" stroke="#000" stroke-width="3.2"/>
<line x1="1196.1000000000001" y1="1342.8" x2="1196.1000000000001" y2="1354.3" stroke="#000" stroke-width="3.2"/>
<line x1="1269.3" y1="1342.8" x2="1269.3" y2="1354.3" stroke="#000" stroke-width="3.2"/>
<text x="835.4" y="1396.1" font-size="33" fill="#231f20">-0.01</text>
<text x="925.1" y="1397" font-size="33" fill="#231f20">-0.005</text>
<text x="1043.1" y="1394" font-size="33" fill="#231f20">0</text>
<text x="1081.9" y="1396.5" font-size="33" fill="#231f20">0.005</text>
<text x="1183.9" y="1394.5" font-size="33" fill="#231f20">0.01</text>
<text x="1266.5" y="1396.5" font-size="33" fill="#231f20">0.015</text>
<text x="0" y="0" font-size="41" fill="#231f20" transform="translate(767.1,1264.7) rotate(-90)">Effect size (Hedges’ g)</text>
<text x="813.9" y="1467" font-size="41" fill="#231f20">Classifier weight</text>
<text x="1125.1" y="1467" font-size="44" fill="#231f20">(</text>
<text x="1139.6" y="1467" font-size="44" fill="#231f20">μ</text>
<text x="1164.3" y="1482.6" font-size="26.4" fill="#231f20">FC coefficient</text>
<text x="1326.3" y="1467" font-size="44" fill="#231f20">)</text>
</svg>
</body></html>
